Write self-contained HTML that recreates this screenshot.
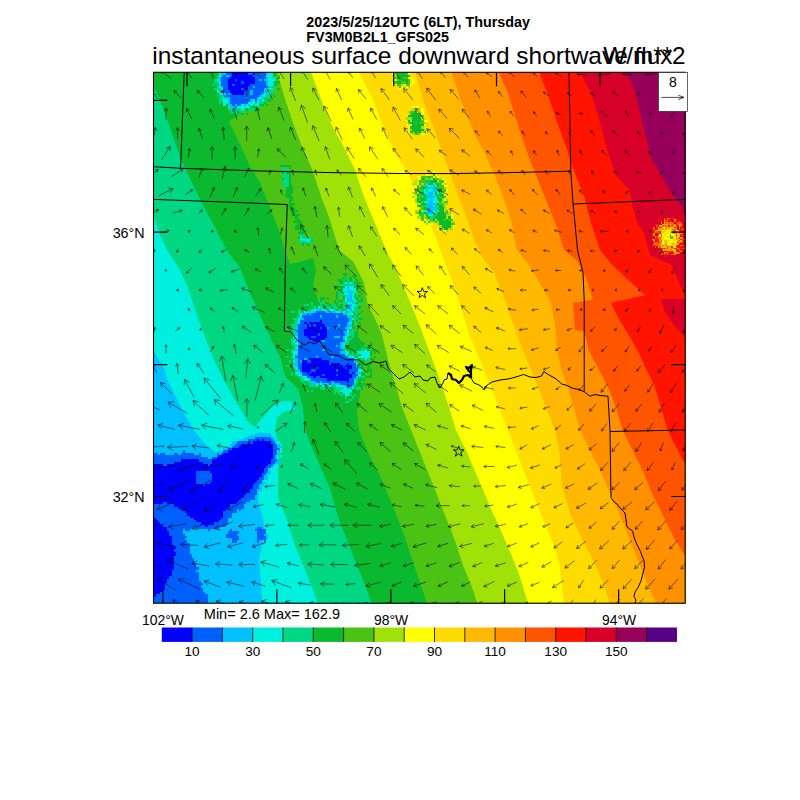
<!DOCTYPE html>
<html><head><meta charset="utf-8"><title>plot</title>
<style>html,body{margin:0;padding:0;background:#fff}svg{display:block}text{font-family:"Liberation Sans",sans-serif;fill:#000}</style>
</head><body>
<svg width="800" height="800" viewBox="0 0 800 800">
<rect width="800" height="800" fill="#fff"/>
<rect x="153.5" y="72.3" width="531.7" height="530.9" fill="#00c0ff"/>
<polygon points="153.5,351.0 163.5,367.0 167.5,380.0 176.0,397.5 185.0,415.0 195.5,432.5 206.0,444.8 214.8,451.8 223.5,450.0 234.0,444.8 244.5,437.8 258.5,432.5 270.0,433.0 276.0,441.0 277.0,452.0 274.0,462.0 266.0,476.0 259.0,488.0 258.0,500.0 262.0,515.0 265.0,530.0 259.0,560.0 261.0,585.0 262.5,603.2 685.2,603.2 685.2,72.3 153.5,72.3" fill="#00f0e0" />
<polygon points="153.5,216.0 160.0,235.0 167.0,250.0 179.0,268.0 188.0,288.0 197.0,315.0 206.0,340.0 215.0,362.5 226.5,385.0 238.0,405.0 248.0,422.0 255.0,427.0 262.0,418.5 272.5,406.0 283.0,401.0 294.0,402.0 295.0,409.0 283.0,412.0 277.0,418.0 275.0,430.0 278.0,445.0 279.0,460.0 278.0,475.0 278.0,497.5 287.0,520.0 294.0,542.5 303.0,565.0 312.0,587.5 317.6,603.2 685.2,603.2 685.2,72.3 153.5,72.3" fill="#00d782" />
<polygon points="153.5,85.0 165.8,115.0 172.5,135.0 181.5,160.0 190.5,180.0 201.8,202.8 215.0,227.5 226.5,250.0 240.0,268.0 249.0,290.5 260.0,315.0 271.5,340.0 280.5,358.0 285.0,376.0 298.5,389.5 303.0,407.5 305.0,430.0 312.0,448.0 321.0,468.0 330.0,488.5 339.0,520.0 348.0,542.5 357.0,565.0 366.0,587.5 371.6,603.2 685.2,603.2 685.2,72.3 153.5,72.3" fill="#0ab92d" />
<polygon points="276.0,72.3 271.5,99.0 251.0,106.0 228.8,121.8 240.0,144.0 249.0,164.5 260.0,182.5 269.0,205.0 278.0,227.5 285.0,250.0 290.0,264.0 300.0,262.0 313.0,258.0 316.0,270.0 313.0,285.0 318.0,300.0 340.0,310.0 364.0,345.0 364.0,365.0 362.0,382.5 357.0,412.0 359.0,430.0 368.0,452.5 379.5,475.0 391.0,502.0 402.0,529.0 411.0,556.0 420.0,583.0 427.0,603.2 685.2,603.2 685.2,72.3" fill="#4bc314" />
<polygon points="277.0,72.3 285.0,99.0 294.0,126.0 303.0,149.0 312.0,169.0 321.0,196.0 330.0,220.0 339.0,250.0 353.5,262.0 364.0,282.8 367.5,303.8 374.5,317.8 381.5,333.5 385.0,347.5 388.5,361.5 393.8,379.0 402.0,407.5 411.0,430.0 420.0,452.5 431.0,479.5 442.5,509.0 454.0,538.0 463.0,565.0 472.0,587.5 477.4,603.2 685.2,603.2 685.2,72.3" fill="#a0e10a" />
<polygon points="311.0,72.3 321.0,99.0 330.0,122.0 343.5,146.5 354.7,169.0 363.7,196.0 375.0,223.0 386.0,250.0 397.5,272.5 409.0,299.5 420.0,326.5 431.0,355.7 440.0,380.5 449.0,407.5 456.0,430.0 467.0,452.5 478.5,479.5 490.0,506.5 501.0,531.0 510.0,551.5 519.0,574.0 528.0,603.2 685.2,603.2 685.2,72.3" fill="#ffff00" />
<polygon points="359.0,72.3 372.7,99.0 384.0,128.5 395.0,153.0 408.0,173.0 420.0,200.0 436.0,237.5 440.0,250.0 451.5,279.0 460.5,306.0 469.5,335.5 481.0,362.5 490.0,385.0 499.0,407.5 508.0,430.0 519.0,459.0 530.0,486.0 541.5,515.5 552.8,542.5 559.5,565.0 564.0,603.2 685.2,603.2 685.2,72.3" fill="#ffdc00" />
<polygon points="415.5,72.3 424.5,104.0 435.8,133.0 443.0,155.0 450.0,172.8 458.8,197.0 467.5,220.0 474.5,241.0 483.0,258.0 494.0,272.5 503.0,295.0 510.0,315.0 519.0,340.0 528.0,362.5 537.0,385.0 546.0,407.5 555.0,430.0 559.5,452.5 561.8,486.0 570.8,515.5 584.0,542.5 595.5,565.0 604.5,587.5 610.0,603.2 685.2,603.2 685.2,72.3" fill="#ffb900" />
<polygon points="451.5,72.3 460.5,99.0 474.0,133.0 483.0,150.0 493.8,172.8 502.5,195.5 511.0,220.0 516.8,250.0 528.0,263.5 539.0,281.5 550.5,302.0 555.0,324.0 557.0,351.0 562.0,371.5 568.5,389.5 575.0,412.0 580.0,430.0 589.0,448.0 600.0,470.5 609.0,490.8 618.0,511.0 629.0,538.0 638.0,560.5 647.0,583.0 656.0,603.2 685.2,603.2 685.2,72.3" fill="#ff9100" />
<polygon points="498.8,72.3 507.8,92.5 519.0,128.5 530.0,160.0 539.0,182.5 548.0,205.0 557.0,227.5 564.0,250.0 577.5,261.0 586.5,279.0 593.0,299.5 573.0,303.0 575.0,330.0 584.0,331.0 589.0,351.0 600.0,371.5 609.0,389.5 616.0,407.5 622.5,430.0 631.5,448.0 642.8,470.5 651.8,493.0 663.0,515.5 674.0,538.0 685.2,556.0 685.2,72.3" fill="#ff5500" />
<polygon points="539.0,72.3 548.0,95.0 557.0,122.0 566.0,146.5 573.0,169.0 584.0,196.0 591.0,223.0 600.0,250.0 611.0,263.5 627.0,279.0 645.0,295.0 611.0,303.0 618.0,317.5 629.0,335.5 638.0,351.0 645.0,367.0 654.0,385.0 661.0,407.5 667.5,430.0 676.5,448.0 685.2,463.8 685.2,72.3" fill="#ff1400" />
<polygon points="580.0,72.3 591.0,92.5 600.0,122.0 607.0,149.0 616.0,176.0 630.0,190.0 633.0,209.0 637.0,222.0 644.0,233.0 650.0,255.0 672.0,265.0 682.0,290.0 685.2,295.0 685.2,72.3" fill="#d70028" />
<polygon points="625.0,72.3 632.6,83.5 638.0,104.0 645.0,133.0 652.0,160.0 663.0,178.0 672.0,194.0 681.0,205.0 685.2,214.0 685.2,72.3" fill="#96005a" />
<polygon points="685.2,299.0 661.0,299.0 665.0,312.0 674.0,325.0 685.2,338.0" fill="#d70028" />
<path d="M232.25 72.30h15.75v2.30h-15.75zM252.50 72.30h2.25v2.30h-2.25zM232.25 74.55h20.25v2.30h-20.25zM230.00 76.80h24.75v2.30h-24.75zM227.75 79.05h6.75v2.30h-6.75zM236.75 79.05h18.00v2.30h-18.00zM227.75 81.30h13.50v2.30h-13.50zM243.50 81.30h11.25v2.30h-11.25zM227.75 83.55h4.50v2.30h-4.50zM234.50 83.55h15.75v2.30h-15.75zM227.75 85.80h20.25v2.30h-20.25zM227.75 88.05h13.50v2.30h-13.50zM243.50 88.05h4.50v2.30h-4.50zM230.00 90.30h13.50v2.30h-13.50zM232.25 92.55h11.25v2.30h-11.25zM320.00 319.80h2.25v2.30h-2.25zM304.25 322.05h2.25v2.30h-2.25zM308.75 322.05h13.50v2.30h-13.50zM306.50 324.30h2.25v2.30h-2.25zM311.00 324.30h2.25v2.30h-2.25zM315.50 324.30h9.00v2.30h-9.00zM306.50 326.55h13.50v2.30h-13.50zM322.25 326.55h4.50v2.30h-4.50zM304.25 328.80h22.50v2.30h-22.50zM304.25 331.05h22.50v2.30h-22.50zM304.25 333.30h13.50v2.30h-13.50zM320.00 333.30h6.75v2.30h-6.75zM306.50 335.55h4.50v2.30h-4.50zM315.50 335.55h11.25v2.30h-11.25zM308.75 337.80h15.75v2.30h-15.75zM313.25 340.05h6.75v2.30h-6.75zM308.75 358.05h13.50v2.30h-13.50zM302.00 360.30h4.50v2.30h-4.50zM311.00 360.30h18.00v2.30h-18.00zM302.00 362.55h27.00v2.30h-27.00zM331.25 362.55h9.00v2.30h-9.00zM347.00 362.55h2.25v2.30h-2.25zM302.00 364.80h40.50v2.30h-40.50zM344.75 364.80h6.75v2.30h-6.75zM302.00 367.05h13.50v2.30h-13.50zM317.75 367.05h27.00v2.30h-27.00zM347.00 367.05h4.50v2.30h-4.50zM302.00 369.30h9.00v2.30h-9.00zM315.50 369.30h20.25v2.30h-20.25zM338.00 369.30h11.25v2.30h-11.25zM306.50 371.55h2.25v2.30h-2.25zM311.00 371.55h38.25v2.30h-38.25zM351.50 371.55h2.25v2.30h-2.25zM308.75 373.80h13.50v2.30h-13.50zM324.50 373.80h11.25v2.30h-11.25zM338.00 373.80h13.50v2.30h-13.50zM313.25 376.05h2.25v2.30h-2.25zM320.00 376.05h31.50v2.30h-31.50zM326.75 378.30h22.50v2.30h-22.50zM347.00 380.55h2.25v2.30h-2.25zM257.00 439.05h2.25v2.30h-2.25zM261.50 439.05h2.25v2.30h-2.25zM248.00 441.30h2.25v2.30h-2.25zM252.50 441.30h18.00v2.30h-18.00zM241.25 443.55h31.50v2.30h-31.50zM239.00 445.80h33.75v2.30h-33.75zM232.25 448.05h40.50v2.30h-40.50zM227.75 450.30h45.00v2.30h-45.00zM223.25 452.55h49.50v2.30h-49.50zM218.75 454.80h54.00v2.30h-54.00zM216.50 457.05h56.25v2.30h-56.25zM180.50 459.30h18.00v2.30h-18.00zM212.00 459.30h58.50v2.30h-58.50zM173.75 461.55h29.25v2.30h-29.25zM212.00 461.55h58.50v2.30h-58.50zM153.50 463.80h9.00v2.30h-9.00zM167.00 463.80h40.50v2.30h-40.50zM209.75 463.80h58.50v2.30h-58.50zM153.50 466.05h112.50v2.30h-112.50zM153.50 468.30h110.25v2.30h-110.25zM153.50 470.55h42.75v2.30h-42.75zM209.75 470.55h54.00v2.30h-54.00zM153.50 472.80h42.75v2.30h-42.75zM212.00 472.80h49.50v2.30h-49.50zM153.50 475.05h42.75v2.30h-42.75zM212.00 475.05h49.50v2.30h-49.50zM153.50 477.30h42.75v2.30h-42.75zM212.00 477.30h47.25v2.30h-47.25zM153.50 479.55h42.75v2.30h-42.75zM212.00 479.55h45.00v2.30h-45.00zM153.50 481.80h42.75v2.30h-42.75zM209.75 481.80h45.00v2.30h-45.00zM153.50 484.05h49.50v2.30h-49.50zM205.25 484.05h47.25v2.30h-47.25zM153.50 486.30h99.00v2.30h-99.00zM153.50 488.55h96.75v2.30h-96.75zM153.50 490.80h96.75v2.30h-96.75zM153.50 493.05h92.25v2.30h-92.25zM153.50 495.30h90.00v2.30h-90.00zM153.50 497.55h87.75v2.30h-87.75zM153.50 499.80h85.50v2.30h-85.50zM153.50 502.05h9.00v2.30h-9.00zM167.00 502.05h69.75v2.30h-69.75zM173.75 504.30h56.25v2.30h-56.25zM178.25 506.55h49.50v2.30h-49.50zM182.75 508.80h42.75v2.30h-42.75zM185.00 511.05h38.25v2.30h-38.25zM187.25 513.30h36.00v2.30h-36.00zM189.50 515.55h33.75v2.30h-33.75zM153.50 517.80h2.25v2.30h-2.25zM194.00 517.80h27.00v2.30h-27.00zM153.50 520.05h4.50v2.30h-4.50zM196.25 520.05h22.50v2.30h-22.50zM153.50 522.30h6.75v2.30h-6.75zM200.75 522.30h13.50v2.30h-13.50zM153.50 524.55h9.00v2.30h-9.00zM205.25 524.55h2.25v2.30h-2.25zM153.50 526.80h13.50v2.30h-13.50zM153.50 529.05h13.50v2.30h-13.50zM153.50 531.30h15.75v2.30h-15.75zM153.50 533.55h15.75v2.30h-15.75zM153.50 535.80h18.00v2.30h-18.00zM153.50 538.05h18.00v2.30h-18.00zM153.50 540.30h18.00v2.30h-18.00zM153.50 542.55h18.00v2.30h-18.00zM153.50 544.80h20.25v2.30h-20.25zM153.50 547.05h22.50v2.30h-22.50zM153.50 549.30h20.25v2.30h-20.25zM153.50 551.55h22.50v2.30h-22.50zM153.50 553.80h22.50v2.30h-22.50zM153.50 556.05h20.25v2.30h-20.25zM153.50 558.30h20.25v2.30h-20.25zM153.50 560.55h20.25v2.30h-20.25zM153.50 562.80h20.25v2.30h-20.25zM153.50 565.05h20.25v2.30h-20.25zM153.50 567.30h20.25v2.30h-20.25zM153.50 569.55h18.00v2.30h-18.00zM153.50 571.80h18.00v2.30h-18.00zM153.50 574.05h18.00v2.30h-18.00zM153.50 576.30h15.75v2.30h-15.75zM153.50 578.55h13.50v2.30h-13.50zM153.50 580.80h13.50v2.30h-13.50zM153.50 583.05h11.25v2.30h-11.25zM153.50 585.30h11.25v2.30h-11.25zM153.50 587.55h11.25v2.30h-11.25zM153.50 589.80h9.00v2.30h-9.00zM153.50 592.05h6.75v2.30h-6.75zM153.50 594.30h2.25v2.30h-2.25z" fill="#0000ff" shape-rendering="crispEdges"/>
<path d="M225.50 72.30h6.75v2.30h-6.75zM248.00 72.30h4.50v2.30h-4.50zM254.75 72.30h11.25v2.30h-11.25zM223.25 74.55h2.25v2.30h-2.25zM230.00 74.55h2.25v2.30h-2.25zM252.50 74.55h13.50v2.30h-13.50zM221.00 76.80h9.00v2.30h-9.00zM254.75 76.80h11.25v2.30h-11.25zM221.00 79.05h6.75v2.30h-6.75zM234.50 79.05h2.25v2.30h-2.25zM254.75 79.05h4.50v2.30h-4.50zM261.50 79.05h2.25v2.30h-2.25zM221.00 81.30h6.75v2.30h-6.75zM241.25 81.30h2.25v2.30h-2.25zM254.75 81.30h11.25v2.30h-11.25zM221.00 83.55h6.75v2.30h-6.75zM232.25 83.55h2.25v2.30h-2.25zM250.25 83.55h15.75v2.30h-15.75zM223.25 85.80h4.50v2.30h-4.50zM248.00 85.80h4.50v2.30h-4.50zM254.75 85.80h13.50v2.30h-13.50zM223.25 88.05h4.50v2.30h-4.50zM241.25 88.05h2.25v2.30h-2.25zM248.00 88.05h15.75v2.30h-15.75zM221.00 90.30h9.00v2.30h-9.00zM243.50 90.30h6.75v2.30h-6.75zM252.50 90.30h11.25v2.30h-11.25zM225.50 92.55h2.25v2.30h-2.25zM230.00 92.55h2.25v2.30h-2.25zM243.50 92.55h6.75v2.30h-6.75zM252.50 92.55h9.00v2.30h-9.00zM225.50 94.80h33.75v2.30h-33.75zM230.00 97.05h15.75v2.30h-15.75zM248.00 97.05h9.00v2.30h-9.00zM230.00 99.30h20.25v2.30h-20.25zM254.75 99.30h2.25v2.30h-2.25zM230.00 101.55h18.00v2.30h-18.00zM232.25 103.80h2.25v2.30h-2.25zM236.75 103.80h4.50v2.30h-4.50zM234.50 106.05h2.25v2.30h-2.25zM315.50 310.80h9.00v2.30h-9.00zM306.50 313.05h2.25v2.30h-2.25zM311.00 313.05h31.50v2.30h-31.50zM302.00 315.30h18.00v2.30h-18.00zM322.25 315.30h13.50v2.30h-13.50zM338.00 315.30h9.00v2.30h-9.00zM304.25 317.55h45.00v2.30h-45.00zM299.75 319.80h20.25v2.30h-20.25zM322.25 319.80h27.00v2.30h-27.00zM299.75 322.05h4.50v2.30h-4.50zM306.50 322.05h2.25v2.30h-2.25zM322.25 322.05h24.75v2.30h-24.75zM297.50 324.30h9.00v2.30h-9.00zM308.75 324.30h2.25v2.30h-2.25zM313.25 324.30h2.25v2.30h-2.25zM324.50 324.30h13.50v2.30h-13.50zM340.25 324.30h6.75v2.30h-6.75zM297.50 326.55h9.00v2.30h-9.00zM320.00 326.55h2.25v2.30h-2.25zM329.00 326.55h6.75v2.30h-6.75zM338.00 326.55h6.75v2.30h-6.75zM297.50 328.80h6.75v2.30h-6.75zM326.75 328.80h20.25v2.30h-20.25zM297.50 331.05h6.75v2.30h-6.75zM326.75 331.05h15.75v2.30h-15.75zM297.50 333.30h6.75v2.30h-6.75zM317.75 333.30h2.25v2.30h-2.25zM326.75 333.30h18.00v2.30h-18.00zM297.50 335.55h9.00v2.30h-9.00zM311.00 335.55h4.50v2.30h-4.50zM326.75 335.55h6.75v2.30h-6.75zM340.25 335.55h2.25v2.30h-2.25zM297.50 337.80h11.25v2.30h-11.25zM324.50 337.80h18.00v2.30h-18.00zM297.50 340.05h15.75v2.30h-15.75zM320.00 340.05h2.25v2.30h-2.25zM324.50 340.05h20.25v2.30h-20.25zM299.75 342.30h40.50v2.30h-40.50zM297.50 344.55h38.25v2.30h-38.25zM338.00 344.55h2.25v2.30h-2.25zM297.50 346.80h42.75v2.30h-42.75zM297.50 349.05h24.75v2.30h-24.75zM324.50 349.05h18.00v2.30h-18.00zM297.50 351.30h42.75v2.30h-42.75zM297.50 353.55h47.25v2.30h-47.25zM295.25 355.80h20.25v2.30h-20.25zM317.75 355.80h13.50v2.30h-13.50zM333.50 355.80h13.50v2.30h-13.50zM297.50 358.05h6.75v2.30h-6.75zM306.50 358.05h2.25v2.30h-2.25zM322.25 358.05h31.50v2.30h-31.50zM297.50 360.30h2.25v2.30h-2.25zM306.50 360.30h4.50v2.30h-4.50zM329.00 360.30h24.75v2.30h-24.75zM297.50 362.55h4.50v2.30h-4.50zM329.00 362.55h2.25v2.30h-2.25zM340.25 362.55h6.75v2.30h-6.75zM349.25 362.55h6.75v2.30h-6.75zM297.50 364.80h4.50v2.30h-4.50zM342.50 364.80h2.25v2.30h-2.25zM351.50 364.80h4.50v2.30h-4.50zM297.50 367.05h4.50v2.30h-4.50zM315.50 367.05h2.25v2.30h-2.25zM344.75 367.05h2.25v2.30h-2.25zM351.50 367.05h6.75v2.30h-6.75zM299.75 369.30h2.25v2.30h-2.25zM311.00 369.30h4.50v2.30h-4.50zM335.75 369.30h2.25v2.30h-2.25zM349.25 369.30h9.00v2.30h-9.00zM302.00 371.55h4.50v2.30h-4.50zM308.75 371.55h2.25v2.30h-2.25zM349.25 371.55h2.25v2.30h-2.25zM353.75 371.55h2.25v2.30h-2.25zM302.00 373.80h6.75v2.30h-6.75zM322.25 373.80h2.25v2.30h-2.25zM335.75 373.80h2.25v2.30h-2.25zM351.50 373.80h6.75v2.30h-6.75zM306.50 376.05h6.75v2.30h-6.75zM315.50 376.05h4.50v2.30h-4.50zM351.50 376.05h4.50v2.30h-4.50zM311.00 378.30h15.75v2.30h-15.75zM349.25 378.30h4.50v2.30h-4.50zM315.50 380.55h4.50v2.30h-4.50zM322.25 380.55h9.00v2.30h-9.00zM333.50 380.55h13.50v2.30h-13.50zM349.25 380.55h4.50v2.30h-4.50zM329.00 382.80h2.25v2.30h-2.25zM340.25 382.80h13.50v2.30h-13.50zM347.00 385.05h4.50v2.30h-4.50zM254.75 436.80h15.75v2.30h-15.75zM248.00 439.05h9.00v2.30h-9.00zM259.25 439.05h2.25v2.30h-2.25zM263.75 439.05h9.00v2.30h-9.00zM236.75 441.30h11.25v2.30h-11.25zM250.25 441.30h2.25v2.30h-2.25zM270.50 441.30h4.50v2.30h-4.50zM234.50 443.55h6.75v2.30h-6.75zM272.75 443.55h4.50v2.30h-4.50zM232.25 445.80h6.75v2.30h-6.75zM272.75 445.80h4.50v2.30h-4.50zM227.75 448.05h4.50v2.30h-4.50zM272.75 448.05h6.75v2.30h-6.75zM182.75 450.30h2.25v2.30h-2.25zM223.25 450.30h4.50v2.30h-4.50zM272.75 450.30h4.50v2.30h-4.50zM153.50 452.55h4.50v2.30h-4.50zM160.25 452.55h4.50v2.30h-4.50zM173.75 452.55h4.50v2.30h-4.50zM180.50 452.55h13.50v2.30h-13.50zM198.50 452.55h2.25v2.30h-2.25zM216.50 452.55h2.25v2.30h-2.25zM221.00 452.55h2.25v2.30h-2.25zM272.75 452.55h4.50v2.30h-4.50zM153.50 454.80h47.25v2.30h-47.25zM216.50 454.80h2.25v2.30h-2.25zM272.75 454.80h2.25v2.30h-2.25zM153.50 457.05h54.00v2.30h-54.00zM212.00 457.05h4.50v2.30h-4.50zM272.75 457.05h2.25v2.30h-2.25zM153.50 459.30h27.00v2.30h-27.00zM198.50 459.30h13.50v2.30h-13.50zM270.50 459.30h6.75v2.30h-6.75zM153.50 461.55h20.25v2.30h-20.25zM203.00 461.55h9.00v2.30h-9.00zM270.50 461.55h4.50v2.30h-4.50zM162.50 463.80h4.50v2.30h-4.50zM207.50 463.80h2.25v2.30h-2.25zM268.25 463.80h4.50v2.30h-4.50zM266.00 466.05h4.50v2.30h-4.50zM263.75 468.30h4.50v2.30h-4.50zM196.25 470.55h13.50v2.30h-13.50zM263.75 470.55h4.50v2.30h-4.50zM196.25 472.80h15.75v2.30h-15.75zM261.50 472.80h4.50v2.30h-4.50zM196.25 475.05h15.75v2.30h-15.75zM261.50 475.05h2.25v2.30h-2.25zM196.25 477.30h15.75v2.30h-15.75zM259.25 477.30h4.50v2.30h-4.50zM196.25 479.55h15.75v2.30h-15.75zM257.00 479.55h4.50v2.30h-4.50zM196.25 481.80h13.50v2.30h-13.50zM254.75 481.80h6.75v2.30h-6.75zM203.00 484.05h2.25v2.30h-2.25zM252.50 484.05h6.75v2.30h-6.75zM252.50 486.30h6.75v2.30h-6.75zM250.25 488.55h6.75v2.30h-6.75zM250.25 490.80h6.75v2.30h-6.75zM245.75 493.05h11.25v2.30h-11.25zM243.50 495.30h11.25v2.30h-11.25zM241.25 497.55h13.50v2.30h-13.50zM239.00 499.80h11.25v2.30h-11.25zM162.50 502.05h4.50v2.30h-4.50zM236.75 502.05h9.00v2.30h-9.00zM153.50 504.30h20.25v2.30h-20.25zM230.00 504.30h13.50v2.30h-13.50zM153.50 506.55h24.75v2.30h-24.75zM227.75 506.55h15.75v2.30h-15.75zM153.50 508.80h29.25v2.30h-29.25zM225.50 508.80h11.25v2.30h-11.25zM239.00 508.80h2.25v2.30h-2.25zM153.50 511.05h31.50v2.30h-31.50zM223.25 511.05h13.50v2.30h-13.50zM153.50 513.30h33.75v2.30h-33.75zM223.25 513.30h9.00v2.30h-9.00zM153.50 515.55h36.00v2.30h-36.00zM223.25 515.55h9.00v2.30h-9.00zM155.75 517.80h38.25v2.30h-38.25zM221.00 517.80h6.75v2.30h-6.75zM158.00 520.05h38.25v2.30h-38.25zM218.75 520.05h9.00v2.30h-9.00zM160.25 522.30h40.50v2.30h-40.50zM214.25 522.30h13.50v2.30h-13.50zM162.50 524.55h42.75v2.30h-42.75zM207.50 524.55h18.00v2.30h-18.00zM167.00 526.80h27.00v2.30h-27.00zM196.25 526.80h22.50v2.30h-22.50zM257.00 526.80h4.50v2.30h-4.50zM167.00 529.05h15.75v2.30h-15.75zM185.00 529.05h4.50v2.30h-4.50zM207.50 529.05h2.25v2.30h-2.25zM230.00 529.05h2.25v2.30h-2.25zM254.75 529.05h11.25v2.30h-11.25zM169.25 531.30h13.50v2.30h-13.50zM227.75 531.30h11.25v2.30h-11.25zM257.00 531.30h9.00v2.30h-9.00zM169.25 533.55h15.75v2.30h-15.75zM225.50 533.55h11.25v2.30h-11.25zM257.00 533.55h6.75v2.30h-6.75zM171.50 535.80h15.75v2.30h-15.75zM225.50 535.80h13.50v2.30h-13.50zM257.00 535.80h9.00v2.30h-9.00zM171.50 538.05h13.50v2.30h-13.50zM232.25 538.05h6.75v2.30h-6.75zM257.00 538.05h9.00v2.30h-9.00zM171.50 540.30h15.75v2.30h-15.75zM232.25 540.30h4.50v2.30h-4.50zM257.00 540.30h2.25v2.30h-2.25zM263.75 540.30h2.25v2.30h-2.25zM171.50 542.55h18.00v2.30h-18.00zM173.75 544.80h15.75v2.30h-15.75zM176.00 547.05h13.50v2.30h-13.50zM173.75 549.30h15.75v2.30h-15.75zM176.00 551.55h13.50v2.30h-13.50zM176.00 553.80h15.75v2.30h-15.75zM173.75 556.05h18.00v2.30h-18.00zM173.75 558.30h20.25v2.30h-20.25zM173.75 560.55h20.25v2.30h-20.25zM173.75 562.80h22.50v2.30h-22.50zM173.75 565.05h22.50v2.30h-22.50zM173.75 567.30h24.75v2.30h-24.75zM171.50 569.55h24.75v2.30h-24.75zM171.50 571.80h27.00v2.30h-27.00zM171.50 574.05h27.00v2.30h-27.00zM169.25 576.30h29.25v2.30h-29.25zM167.00 578.55h31.50v2.30h-31.50zM167.00 580.80h33.75v2.30h-33.75zM164.75 583.05h38.25v2.30h-38.25zM164.75 585.30h36.00v2.30h-36.00zM164.75 587.55h38.25v2.30h-38.25zM162.50 589.80h40.50v2.30h-40.50zM160.25 592.05h45.00v2.30h-45.00zM155.75 594.30h51.75v2.30h-51.75zM153.50 596.55h54.00v2.30h-54.00zM153.50 598.80h54.00v2.30h-54.00zM153.50 601.05h54.00v2.20h-54.00z" fill="#0060ff" shape-rendering="crispEdges"/>
<path d="M221.00 72.30h4.50v2.30h-4.50zM266.00 72.30h2.25v2.30h-2.25zM221.00 74.55h2.25v2.30h-2.25zM225.50 74.55h4.50v2.30h-4.50zM218.75 76.80h2.25v2.30h-2.25zM266.00 76.80h2.25v2.30h-2.25zM218.75 79.05h2.25v2.30h-2.25zM259.25 79.05h2.25v2.30h-2.25zM263.75 79.05h4.50v2.30h-4.50zM266.00 81.30h2.25v2.30h-2.25zM266.00 83.55h2.25v2.30h-2.25zM221.00 85.80h2.25v2.30h-2.25zM252.50 85.80h2.25v2.30h-2.25zM263.75 88.05h2.25v2.30h-2.25zM250.25 90.30h2.25v2.30h-2.25zM263.75 90.30h2.25v2.30h-2.25zM227.75 92.55h2.25v2.30h-2.25zM250.25 92.55h2.25v2.30h-2.25zM261.50 92.55h2.25v2.30h-2.25zM223.25 94.80h2.25v2.30h-2.25zM259.25 94.80h2.25v2.30h-2.25zM225.50 97.05h4.50v2.30h-4.50zM245.75 97.05h2.25v2.30h-2.25zM257.00 97.05h2.25v2.30h-2.25zM261.50 97.05h2.25v2.30h-2.25zM227.75 99.30h2.25v2.30h-2.25zM250.25 99.30h2.25v2.30h-2.25zM259.25 99.30h2.25v2.30h-2.25zM227.75 101.55h2.25v2.30h-2.25zM230.00 103.80h2.25v2.30h-2.25zM234.50 103.80h2.25v2.30h-2.25zM243.50 103.80h2.25v2.30h-2.25zM248.00 103.80h2.25v2.30h-2.25zM230.00 106.05h4.50v2.30h-4.50zM234.50 108.30h2.25v2.30h-2.25zM425.75 184.80h2.25v2.30h-2.25zM432.50 184.80h2.25v2.30h-2.25zM428.00 187.05h6.75v2.30h-6.75zM432.50 189.30h4.50v2.30h-4.50zM428.00 191.55h4.50v2.30h-4.50zM428.00 193.80h4.50v2.30h-4.50zM425.75 196.05h9.00v2.30h-9.00zM430.25 198.30h2.25v2.30h-2.25zM428.00 200.55h4.50v2.30h-4.50zM425.75 202.80h11.25v2.30h-11.25zM428.00 205.05h4.50v2.30h-4.50zM428.00 207.30h6.75v2.30h-6.75zM428.00 209.55h4.50v2.30h-4.50zM434.75 209.55h2.25v2.30h-2.25zM428.00 211.80h4.50v2.30h-4.50zM347.00 283.80h2.25v2.30h-2.25zM347.00 286.05h2.25v2.30h-2.25zM347.00 288.30h2.25v2.30h-2.25zM347.00 290.55h4.50v2.30h-4.50zM349.25 292.80h2.25v2.30h-2.25zM344.75 295.05h6.75v2.30h-6.75zM347.00 297.30h4.50v2.30h-4.50zM347.00 299.55h6.75v2.30h-6.75zM351.50 301.80h2.25v2.30h-2.25zM347.00 304.05h4.50v2.30h-4.50zM347.00 306.30h4.50v2.30h-4.50zM315.50 308.55h4.50v2.30h-4.50zM308.75 310.80h2.25v2.30h-2.25zM313.25 310.80h2.25v2.30h-2.25zM324.50 310.80h11.25v2.30h-11.25zM340.25 310.80h2.25v2.30h-2.25zM347.00 310.80h2.25v2.30h-2.25zM302.00 313.05h4.50v2.30h-4.50zM308.75 313.05h2.25v2.30h-2.25zM342.50 313.05h2.25v2.30h-2.25zM320.00 315.30h2.25v2.30h-2.25zM335.75 315.30h2.25v2.30h-2.25zM347.00 315.30h2.25v2.30h-2.25zM299.75 317.55h4.50v2.30h-4.50zM349.25 317.55h2.25v2.30h-2.25zM349.25 319.80h2.25v2.30h-2.25zM295.25 322.05h2.25v2.30h-2.25zM347.00 322.05h2.25v2.30h-2.25zM338.00 324.30h2.25v2.30h-2.25zM347.00 324.30h4.50v2.30h-4.50zM295.25 326.55h2.25v2.30h-2.25zM326.75 326.55h2.25v2.30h-2.25zM335.75 326.55h2.25v2.30h-2.25zM344.75 326.55h4.50v2.30h-4.50zM295.25 328.80h2.25v2.30h-2.25zM295.25 331.05h2.25v2.30h-2.25zM342.50 331.05h4.50v2.30h-4.50zM295.25 333.30h2.25v2.30h-2.25zM344.75 333.30h2.25v2.30h-2.25zM333.50 335.55h6.75v2.30h-6.75zM342.50 335.55h2.25v2.30h-2.25zM342.50 337.80h2.25v2.30h-2.25zM295.25 340.05h2.25v2.30h-2.25zM322.25 340.05h2.25v2.30h-2.25zM297.50 342.30h2.25v2.30h-2.25zM340.25 342.30h2.25v2.30h-2.25zM295.25 344.55h2.25v2.30h-2.25zM335.75 344.55h2.25v2.30h-2.25zM340.25 344.55h2.25v2.30h-2.25zM340.25 346.80h2.25v2.30h-2.25zM295.25 349.05h2.25v2.30h-2.25zM322.25 349.05h2.25v2.30h-2.25zM340.25 351.30h4.50v2.30h-4.50zM295.25 353.55h2.25v2.30h-2.25zM347.00 353.55h2.25v2.30h-2.25zM315.50 355.80h2.25v2.30h-2.25zM331.25 355.80h2.25v2.30h-2.25zM347.00 355.80h2.25v2.30h-2.25zM295.25 358.05h2.25v2.30h-2.25zM304.25 358.05h2.25v2.30h-2.25zM295.25 360.30h2.25v2.30h-2.25zM299.75 360.30h2.25v2.30h-2.25zM353.75 360.30h2.25v2.30h-2.25zM295.25 362.55h2.25v2.30h-2.25zM295.25 364.80h2.25v2.30h-2.25zM297.50 369.30h2.25v2.30h-2.25zM299.75 371.55h2.25v2.30h-2.25zM356.00 371.55h4.50v2.30h-4.50zM356.00 376.05h2.25v2.30h-2.25zM308.75 378.30h2.25v2.30h-2.25zM353.75 378.30h2.25v2.30h-2.25zM311.00 380.55h4.50v2.30h-4.50zM320.00 380.55h2.25v2.30h-2.25zM331.25 380.55h2.25v2.30h-2.25zM313.25 382.80h2.25v2.30h-2.25zM322.25 382.80h2.25v2.30h-2.25zM326.75 382.80h2.25v2.30h-2.25zM331.25 382.80h9.00v2.30h-9.00zM342.50 385.05h4.50v2.30h-4.50zM351.50 385.05h2.25v2.30h-2.25zM347.00 387.30h2.25v2.30h-2.25zM272.75 436.80h2.25v2.30h-2.25zM239.00 439.05h2.25v2.30h-2.25zM232.25 441.30h4.50v2.30h-4.50zM230.00 443.55h4.50v2.30h-4.50zM277.25 443.55h2.25v2.30h-2.25zM225.50 445.80h2.25v2.30h-2.25zM277.25 445.80h4.50v2.30h-4.50zM223.25 448.05h2.25v2.30h-2.25zM277.25 452.55h2.25v2.30h-2.25zM275.00 454.80h2.25v2.30h-2.25zM275.00 457.05h2.25v2.30h-2.25zM277.25 459.30h2.25v2.30h-2.25zM275.00 461.55h4.50v2.30h-4.50zM272.75 463.80h2.25v2.30h-2.25zM270.50 466.05h2.25v2.30h-2.25zM268.25 470.55h2.25v2.30h-2.25zM268.25 472.80h2.25v2.30h-2.25zM266.00 475.05h2.25v2.30h-2.25zM263.75 477.30h4.50v2.30h-4.50zM261.50 481.80h4.50v2.30h-4.50zM261.50 484.05h2.25v2.30h-2.25zM259.25 486.30h2.25v2.30h-2.25zM259.25 488.55h2.25v2.30h-2.25zM263.75 533.55h4.50v2.30h-4.50zM266.00 535.80h2.25v2.30h-2.25zM266.00 538.05h2.25v2.30h-2.25zM261.50 542.55h2.25v2.30h-2.25z" fill="#00c0ff" shape-rendering="crispEdges"/>
<path d="M218.75 72.30h2.25v2.30h-2.25zM268.25 72.30h4.50v2.30h-4.50zM218.75 74.55h2.25v2.30h-2.25zM266.00 74.55h6.75v2.30h-6.75zM268.25 76.80h2.25v2.30h-2.25zM272.75 76.80h2.25v2.30h-2.25zM216.50 79.05h2.25v2.30h-2.25zM268.25 79.05h6.75v2.30h-6.75zM218.75 81.30h2.25v2.30h-2.25zM268.25 81.30h4.50v2.30h-4.50zM268.25 83.55h4.50v2.30h-4.50zM218.75 85.80h2.25v2.30h-2.25zM221.00 88.05h2.25v2.30h-2.25zM266.00 88.05h6.75v2.30h-6.75zM216.50 90.30h2.25v2.30h-2.25zM266.00 90.30h4.50v2.30h-4.50zM218.75 92.55h6.75v2.30h-6.75zM263.75 92.55h2.25v2.30h-2.25zM268.25 92.55h2.25v2.30h-2.25zM261.50 94.80h4.50v2.30h-4.50zM223.25 97.05h2.25v2.30h-2.25zM259.25 97.05h2.25v2.30h-2.25zM223.25 99.30h4.50v2.30h-4.50zM252.50 99.30h2.25v2.30h-2.25zM257.00 99.30h2.25v2.30h-2.25zM261.50 99.30h2.25v2.30h-2.25zM223.25 101.55h4.50v2.30h-4.50zM248.00 101.55h6.75v2.30h-6.75zM257.00 101.55h2.25v2.30h-2.25zM223.25 103.80h2.25v2.30h-2.25zM241.25 103.80h2.25v2.30h-2.25zM245.75 103.80h2.25v2.30h-2.25zM250.25 103.80h2.25v2.30h-2.25zM254.75 103.80h4.50v2.30h-4.50zM227.75 106.05h2.25v2.30h-2.25zM236.75 106.05h13.50v2.30h-13.50zM241.25 108.30h2.25v2.30h-2.25zM425.75 182.55h2.25v2.30h-2.25zM432.50 182.55h2.25v2.30h-2.25zM428.00 184.80h4.50v2.30h-4.50zM434.75 184.80h2.25v2.30h-2.25zM423.50 189.30h2.25v2.30h-2.25zM428.00 189.30h4.50v2.30h-4.50zM423.50 191.55h4.50v2.30h-4.50zM432.50 191.55h2.25v2.30h-2.25zM437.00 191.55h2.25v2.30h-2.25zM432.50 193.80h2.25v2.30h-2.25zM434.75 196.05h2.25v2.30h-2.25zM428.00 198.30h2.25v2.30h-2.25zM432.50 198.30h4.50v2.30h-4.50zM423.50 200.55h4.50v2.30h-4.50zM432.50 200.55h6.75v2.30h-6.75zM432.50 205.05h2.25v2.30h-2.25zM423.50 209.55h4.50v2.30h-4.50zM432.50 209.55h2.25v2.30h-2.25zM437.00 209.55h2.25v2.30h-2.25zM432.50 211.80h4.50v2.30h-4.50zM428.00 214.05h4.50v2.30h-4.50zM344.75 281.55h2.25v2.30h-2.25zM349.25 281.55h2.25v2.30h-2.25zM344.75 286.05h2.25v2.30h-2.25zM349.25 286.05h4.50v2.30h-4.50zM342.50 288.30h4.50v2.30h-4.50zM349.25 288.30h6.75v2.30h-6.75zM344.75 290.55h2.25v2.30h-2.25zM353.75 290.55h2.25v2.30h-2.25zM342.50 292.80h6.75v2.30h-6.75zM351.50 292.80h2.25v2.30h-2.25zM351.50 295.05h2.25v2.30h-2.25zM344.75 297.30h2.25v2.30h-2.25zM351.50 297.30h2.25v2.30h-2.25zM344.75 299.55h2.25v2.30h-2.25zM353.75 299.55h2.25v2.30h-2.25zM347.00 301.80h4.50v2.30h-4.50zM351.50 304.05h4.50v2.30h-4.50zM317.75 306.30h2.25v2.30h-2.25zM351.50 306.30h2.25v2.30h-2.25zM313.25 308.55h2.25v2.30h-2.25zM322.25 308.55h4.50v2.30h-4.50zM329.00 308.55h4.50v2.30h-4.50zM347.00 308.55h6.75v2.30h-6.75zM304.25 310.80h4.50v2.30h-4.50zM311.00 310.80h2.25v2.30h-2.25zM335.75 310.80h4.50v2.30h-4.50zM342.50 310.80h2.25v2.30h-2.25zM349.25 310.80h4.50v2.30h-4.50zM299.75 313.05h2.25v2.30h-2.25zM347.00 313.05h6.75v2.30h-6.75zM299.75 315.30h2.25v2.30h-2.25zM297.50 317.55h2.25v2.30h-2.25zM351.50 317.55h2.25v2.30h-2.25zM297.50 319.80h2.25v2.30h-2.25zM297.50 322.05h2.25v2.30h-2.25zM349.25 322.05h2.25v2.30h-2.25zM349.25 326.55h2.25v2.30h-2.25zM293.00 328.80h2.25v2.30h-2.25zM347.00 328.80h2.25v2.30h-2.25zM347.00 331.05h2.25v2.30h-2.25zM347.00 333.30h2.25v2.30h-2.25zM293.00 335.55h4.50v2.30h-4.50zM344.75 335.55h2.25v2.30h-2.25zM295.25 337.80h2.25v2.30h-2.25zM344.75 337.80h2.25v2.30h-2.25zM293.00 340.05h2.25v2.30h-2.25zM344.75 340.05h2.25v2.30h-2.25zM295.25 342.30h2.25v2.30h-2.25zM342.50 342.30h2.25v2.30h-2.25zM342.50 344.55h2.25v2.30h-2.25zM295.25 346.80h2.25v2.30h-2.25zM365.00 349.05h2.25v2.30h-2.25zM293.00 351.30h4.50v2.30h-4.50zM344.75 351.30h4.50v2.30h-4.50zM358.25 351.30h11.25v2.30h-11.25zM293.00 353.55h2.25v2.30h-2.25zM344.75 353.55h2.25v2.30h-2.25zM360.50 353.55h9.00v2.30h-9.00zM293.00 355.80h2.25v2.30h-2.25zM349.25 355.80h4.50v2.30h-4.50zM358.25 355.80h11.25v2.30h-11.25zM353.75 358.05h4.50v2.30h-4.50zM365.00 358.05h2.25v2.30h-2.25zM293.00 360.30h2.25v2.30h-2.25zM356.00 362.55h2.25v2.30h-2.25zM293.00 364.80h2.25v2.30h-2.25zM356.00 364.80h4.50v2.30h-4.50zM295.25 367.05h2.25v2.30h-2.25zM358.25 369.30h4.50v2.30h-4.50zM295.25 371.55h4.50v2.30h-4.50zM297.50 373.80h4.50v2.30h-4.50zM358.25 373.80h2.25v2.30h-2.25zM302.00 376.05h4.50v2.30h-4.50zM304.25 378.30h4.50v2.30h-4.50zM353.75 380.55h2.25v2.30h-2.25zM315.50 382.80h2.25v2.30h-2.25zM320.00 382.80h2.25v2.30h-2.25zM324.50 382.80h2.25v2.30h-2.25zM315.50 385.05h2.25v2.30h-2.25zM322.25 385.05h2.25v2.30h-2.25zM329.00 385.05h2.25v2.30h-2.25zM335.75 385.05h6.75v2.30h-6.75zM342.50 387.30h4.50v2.30h-4.50zM349.25 387.30h4.50v2.30h-4.50zM340.25 389.55h11.25v2.30h-11.25zM342.50 391.80h6.75v2.30h-6.75zM344.75 394.05h4.50v2.30h-4.50zM277.25 441.30h2.25v2.30h-2.25zM279.50 443.55h2.25v2.30h-2.25zM279.50 448.05h2.25v2.30h-2.25zM279.50 450.30h2.25v2.30h-2.25zM279.50 454.80h2.25v2.30h-2.25zM299.75 236.55h2.25v2.30h-2.25zM299.75 238.80h11.25v2.30h-11.25zM306.50 241.05h2.25v2.30h-2.25z" fill="#00f0e0" shape-rendering="crispEdges"/>
<path d="M216.50 74.55h2.25v2.30h-2.25zM216.50 76.80h2.25v2.30h-2.25zM270.50 76.80h2.25v2.30h-2.25zM214.25 79.05h2.25v2.30h-2.25zM275.00 79.05h2.25v2.30h-2.25zM214.25 81.30h4.50v2.30h-4.50zM272.75 81.30h2.25v2.30h-2.25zM212.00 83.55h2.25v2.30h-2.25zM216.50 83.55h4.50v2.30h-4.50zM272.75 83.55h2.25v2.30h-2.25zM216.50 85.80h2.25v2.30h-2.25zM268.25 85.80h6.75v2.30h-6.75zM214.25 88.05h6.75v2.30h-6.75zM272.75 88.05h2.25v2.30h-2.25zM218.75 90.30h2.25v2.30h-2.25zM270.50 90.30h4.50v2.30h-4.50zM266.00 92.55h2.25v2.30h-2.25zM216.50 94.80h2.25v2.30h-2.25zM221.00 94.80h2.25v2.30h-2.25zM266.00 94.80h4.50v2.30h-4.50zM218.75 97.05h4.50v2.30h-4.50zM266.00 97.05h4.50v2.30h-4.50zM218.75 99.30h4.50v2.30h-4.50zM263.75 99.30h2.25v2.30h-2.25zM218.75 101.55h2.25v2.30h-2.25zM254.75 101.55h2.25v2.30h-2.25zM259.25 101.55h4.50v2.30h-4.50zM227.75 103.80h2.25v2.30h-2.25zM252.50 103.80h2.25v2.30h-2.25zM257.00 106.05h4.50v2.30h-4.50zM227.75 108.30h6.75v2.30h-6.75zM236.75 108.30h4.50v2.30h-4.50zM243.50 108.30h2.25v2.30h-2.25zM248.00 108.30h6.75v2.30h-6.75zM230.00 110.55h6.75v2.30h-6.75zM241.25 110.55h2.25v2.30h-2.25zM234.50 112.80h2.25v2.30h-2.25zM239.00 112.80h2.25v2.30h-2.25zM428.00 178.05h2.25v2.30h-2.25zM428.00 180.30h2.25v2.30h-2.25zM423.50 184.80h2.25v2.30h-2.25zM439.25 184.80h2.25v2.30h-2.25zM425.75 187.05h2.25v2.30h-2.25zM421.25 189.30h2.25v2.30h-2.25zM425.75 189.30h2.25v2.30h-2.25zM437.00 189.30h2.25v2.30h-2.25zM439.25 191.55h2.25v2.30h-2.25zM421.25 193.80h6.75v2.30h-6.75zM437.00 193.80h2.25v2.30h-2.25zM421.25 196.05h2.25v2.30h-2.25zM425.75 198.30h2.25v2.30h-2.25zM437.00 198.30h2.25v2.30h-2.25zM421.25 200.55h2.25v2.30h-2.25zM441.50 202.80h2.25v2.30h-2.25zM423.50 205.05h4.50v2.30h-4.50zM434.75 205.05h4.50v2.30h-4.50zM425.75 207.30h2.25v2.30h-2.25zM434.75 207.30h4.50v2.30h-4.50zM421.25 211.80h2.25v2.30h-2.25zM425.75 211.80h2.25v2.30h-2.25zM430.25 216.30h4.50v2.30h-4.50zM430.25 218.55h2.25v2.30h-2.25zM344.75 277.05h4.50v2.30h-4.50zM347.00 279.30h2.25v2.30h-2.25zM351.50 279.30h2.25v2.30h-2.25zM338.00 281.55h2.25v2.30h-2.25zM342.50 281.55h2.25v2.30h-2.25zM347.00 281.55h2.25v2.30h-2.25zM351.50 281.55h2.25v2.30h-2.25zM340.25 283.80h6.75v2.30h-6.75zM349.25 283.80h6.75v2.30h-6.75zM356.00 286.05h2.25v2.30h-2.25zM338.00 290.55h6.75v2.30h-6.75zM351.50 290.55h2.25v2.30h-2.25zM338.00 292.80h4.50v2.30h-4.50zM353.75 292.80h4.50v2.30h-4.50zM356.00 295.05h2.25v2.30h-2.25zM338.00 297.30h2.25v2.30h-2.25zM353.75 297.30h2.25v2.30h-2.25zM317.75 299.55h2.25v2.30h-2.25zM342.50 299.55h2.25v2.30h-2.25zM356.00 299.55h2.25v2.30h-2.25zM311.00 301.80h2.25v2.30h-2.25zM320.00 301.80h4.50v2.30h-4.50zM338.00 301.80h2.25v2.30h-2.25zM342.50 301.80h4.50v2.30h-4.50zM353.75 301.80h2.25v2.30h-2.25zM358.25 301.80h2.25v2.30h-2.25zM304.25 304.05h4.50v2.30h-4.50zM311.00 304.05h2.25v2.30h-2.25zM320.00 304.05h2.25v2.30h-2.25zM324.50 304.05h2.25v2.30h-2.25zM331.25 304.05h4.50v2.30h-4.50zM342.50 304.05h4.50v2.30h-4.50zM356.00 304.05h4.50v2.30h-4.50zM313.25 306.30h2.25v2.30h-2.25zM320.00 306.30h11.25v2.30h-11.25zM333.50 306.30h4.50v2.30h-4.50zM342.50 306.30h4.50v2.30h-4.50zM353.75 306.30h4.50v2.30h-4.50zM297.50 308.55h2.25v2.30h-2.25zM302.00 308.55h2.25v2.30h-2.25zM308.75 308.55h4.50v2.30h-4.50zM320.00 308.55h2.25v2.30h-2.25zM326.75 308.55h2.25v2.30h-2.25zM333.50 308.55h2.25v2.30h-2.25zM338.00 308.55h4.50v2.30h-4.50zM344.75 308.55h2.25v2.30h-2.25zM353.75 308.55h4.50v2.30h-4.50zM290.75 310.80h4.50v2.30h-4.50zM297.50 310.80h4.50v2.30h-4.50zM344.75 310.80h2.25v2.30h-2.25zM353.75 310.80h2.25v2.30h-2.25zM297.50 313.05h2.25v2.30h-2.25zM344.75 313.05h2.25v2.30h-2.25zM353.75 313.05h4.50v2.30h-4.50zM297.50 315.30h2.25v2.30h-2.25zM349.25 315.30h2.25v2.30h-2.25zM353.75 315.30h2.25v2.30h-2.25zM358.25 315.30h2.25v2.30h-2.25zM293.00 317.55h4.50v2.30h-4.50zM353.75 317.55h2.25v2.30h-2.25zM295.25 319.80h2.25v2.30h-2.25zM353.75 319.80h2.25v2.30h-2.25zM353.75 322.05h4.50v2.30h-4.50zM290.75 324.30h6.75v2.30h-6.75zM293.00 326.55h2.25v2.30h-2.25zM286.25 328.80h2.25v2.30h-2.25zM351.50 328.80h4.50v2.30h-4.50zM288.50 331.05h2.25v2.30h-2.25zM293.00 331.05h2.25v2.30h-2.25zM349.25 331.05h4.50v2.30h-4.50zM293.00 333.30h2.25v2.30h-2.25zM349.25 333.30h4.50v2.30h-4.50zM347.00 335.55h2.25v2.30h-2.25zM351.50 335.55h2.25v2.30h-2.25zM290.75 337.80h4.50v2.30h-4.50zM347.00 337.80h4.50v2.30h-4.50zM290.75 340.05h2.25v2.30h-2.25zM347.00 340.05h2.25v2.30h-2.25zM290.75 342.30h4.50v2.30h-4.50zM344.75 342.30h4.50v2.30h-4.50zM293.00 344.55h2.25v2.30h-2.25zM367.25 344.55h2.25v2.30h-2.25zM342.50 346.80h4.50v2.30h-4.50zM360.50 346.80h2.25v2.30h-2.25zM286.25 349.05h2.25v2.30h-2.25zM290.75 349.05h4.50v2.30h-4.50zM342.50 349.05h4.50v2.30h-4.50zM360.50 349.05h4.50v2.30h-4.50zM369.50 349.05h2.25v2.30h-2.25zM290.75 351.30h2.25v2.30h-2.25zM351.50 351.30h2.25v2.30h-2.25zM356.00 351.30h2.25v2.30h-2.25zM349.25 353.55h4.50v2.30h-4.50zM356.00 353.55h2.25v2.30h-2.25zM286.25 355.80h2.25v2.30h-2.25zM290.75 355.80h2.25v2.30h-2.25zM353.75 355.80h2.25v2.30h-2.25zM293.00 358.05h2.25v2.30h-2.25zM360.50 358.05h4.50v2.30h-4.50zM367.25 358.05h2.25v2.30h-2.25zM288.50 360.30h2.25v2.30h-2.25zM356.00 360.30h2.25v2.30h-2.25zM365.00 360.30h2.25v2.30h-2.25zM293.00 362.55h2.25v2.30h-2.25zM286.25 364.80h2.25v2.30h-2.25zM288.50 367.05h2.25v2.30h-2.25zM293.00 367.05h2.25v2.30h-2.25zM358.25 367.05h2.25v2.30h-2.25zM362.75 367.05h2.25v2.30h-2.25zM293.00 369.30h4.50v2.30h-4.50zM290.75 371.55h2.25v2.30h-2.25zM290.75 373.80h2.25v2.30h-2.25zM295.25 373.80h2.25v2.30h-2.25zM365.00 373.80h2.25v2.30h-2.25zM297.50 376.05h4.50v2.30h-4.50zM358.25 376.05h6.75v2.30h-6.75zM299.75 378.30h4.50v2.30h-4.50zM356.00 378.30h2.25v2.30h-2.25zM302.00 380.55h2.25v2.30h-2.25zM306.50 380.55h4.50v2.30h-4.50zM356.00 380.55h2.25v2.30h-2.25zM360.50 380.55h2.25v2.30h-2.25zM304.25 382.80h2.25v2.30h-2.25zM308.75 382.80h4.50v2.30h-4.50zM317.75 382.80h2.25v2.30h-2.25zM353.75 382.80h2.25v2.30h-2.25zM308.75 385.05h6.75v2.30h-6.75zM324.50 385.05h4.50v2.30h-4.50zM331.25 385.05h4.50v2.30h-4.50zM353.75 385.05h2.25v2.30h-2.25zM320.00 387.30h4.50v2.30h-4.50zM326.75 387.30h2.25v2.30h-2.25zM333.50 387.30h9.00v2.30h-9.00zM356.00 387.30h4.50v2.30h-4.50zM306.50 389.55h2.25v2.30h-2.25zM311.00 389.55h2.25v2.30h-2.25zM333.50 389.55h6.75v2.30h-6.75zM333.50 391.80h2.25v2.30h-2.25zM338.00 391.80h2.25v2.30h-2.25zM349.25 391.80h2.25v2.30h-2.25zM340.25 394.05h2.25v2.30h-2.25zM349.25 394.05h2.25v2.30h-2.25zM353.75 394.05h2.25v2.30h-2.25zM344.75 396.30h2.25v2.30h-2.25zM351.50 396.30h2.25v2.30h-2.25zM349.25 398.55h2.25v2.30h-2.25zM344.75 400.80h4.50v2.30h-4.50zM281.75 166.80h4.50v2.30h-4.50zM281.75 169.05h6.75v2.30h-6.75zM284.00 171.30h2.25v2.30h-2.25zM281.75 173.55h6.75v2.30h-6.75zM281.75 175.80h6.75v2.30h-6.75zM284.00 178.05h4.50v2.30h-4.50zM281.75 180.30h6.75v2.30h-6.75zM281.75 182.55h6.75v2.30h-6.75zM284.00 184.80h4.50v2.30h-4.50zM284.00 187.05h2.25v2.30h-2.25zM299.75 234.30h4.50v2.30h-4.50zM302.00 236.55h11.25v2.30h-11.25zM297.50 238.80h2.25v2.30h-2.25zM299.75 241.05h6.75v2.30h-6.75zM308.75 241.05h4.50v2.30h-4.50z" fill="#00d782" shape-rendering="crispEdges"/>
<path d="M275.00 72.30h2.25v2.30h-2.25zM277.25 76.80h2.25v2.30h-2.25zM275.00 81.30h4.50v2.30h-4.50zM275.00 83.55h2.25v2.30h-2.25zM277.25 88.05h2.25v2.30h-2.25zM272.75 94.80h2.25v2.30h-2.25zM268.25 99.30h2.25v2.30h-2.25zM263.75 101.55h2.25v2.30h-2.25zM259.25 103.80h4.50v2.30h-4.50zM266.00 103.80h2.25v2.30h-2.25zM250.25 106.05h6.75v2.30h-6.75zM245.75 108.30h2.25v2.30h-2.25zM254.75 108.30h4.50v2.30h-4.50zM241.25 112.80h2.25v2.30h-2.25zM245.75 112.80h2.25v2.30h-2.25zM428.00 175.80h2.25v2.30h-2.25zM421.25 178.05h2.25v2.30h-2.25zM432.50 178.05h2.25v2.30h-2.25zM425.75 180.30h2.25v2.30h-2.25zM430.25 180.30h6.75v2.30h-6.75zM428.00 182.55h4.50v2.30h-4.50zM437.00 182.55h2.25v2.30h-2.25zM437.00 184.80h2.25v2.30h-2.25zM421.25 187.05h4.50v2.30h-4.50zM434.75 187.05h2.25v2.30h-2.25zM439.25 189.30h2.25v2.30h-2.25zM421.25 191.55h2.25v2.30h-2.25zM434.75 191.55h2.25v2.30h-2.25zM416.75 193.80h2.25v2.30h-2.25zM434.75 193.80h2.25v2.30h-2.25zM439.25 193.80h4.50v2.30h-4.50zM423.50 196.05h2.25v2.30h-2.25zM437.00 196.05h2.25v2.30h-2.25zM441.50 196.05h2.25v2.30h-2.25zM416.75 198.30h2.25v2.30h-2.25zM421.25 198.30h4.50v2.30h-4.50zM439.25 198.30h2.25v2.30h-2.25zM419.00 200.55h2.25v2.30h-2.25zM421.25 202.80h4.50v2.30h-4.50zM437.00 202.80h2.25v2.30h-2.25zM419.00 205.05h2.25v2.30h-2.25zM439.25 205.05h2.25v2.30h-2.25zM423.50 207.30h2.25v2.30h-2.25zM439.25 207.30h4.50v2.30h-4.50zM419.00 209.55h2.25v2.30h-2.25zM439.25 209.55h4.50v2.30h-4.50zM419.00 211.80h2.25v2.30h-2.25zM423.50 211.80h2.25v2.30h-2.25zM437.00 211.80h6.75v2.30h-6.75zM425.75 214.05h2.25v2.30h-2.25zM437.00 214.05h9.00v2.30h-9.00zM428.00 216.30h2.25v2.30h-2.25zM434.75 216.30h11.25v2.30h-11.25zM448.25 216.30h2.25v2.30h-2.25zM432.50 218.55h2.25v2.30h-2.25zM437.00 218.55h6.75v2.30h-6.75zM446.00 218.55h2.25v2.30h-2.25zM439.25 220.80h11.25v2.30h-11.25zM439.25 223.05h11.25v2.30h-11.25zM441.50 225.30h9.00v2.30h-9.00zM443.75 227.55h4.50v2.30h-4.50zM414.50 110.55h2.25v2.30h-2.25zM412.25 112.80h6.75v2.30h-6.75zM407.75 115.05h13.50v2.30h-13.50zM412.25 117.30h9.00v2.30h-9.00zM407.75 119.55h2.25v2.30h-2.25zM412.25 119.55h9.00v2.30h-9.00zM410.00 121.80h4.50v2.30h-4.50zM416.75 121.80h2.25v2.30h-2.25zM412.25 124.05h11.25v2.30h-11.25zM410.00 126.30h11.25v2.30h-11.25zM412.25 128.55h11.25v2.30h-11.25zM410.00 130.80h2.25v2.30h-2.25zM414.50 130.80h2.25v2.30h-2.25zM419.00 130.80h2.25v2.30h-2.25zM396.50 72.30h9.00v2.30h-9.00zM396.50 74.55h13.50v2.30h-13.50zM396.50 76.80h6.75v2.30h-6.75zM401.00 79.05h6.75v2.30h-6.75zM396.50 81.30h4.50v2.30h-4.50zM405.50 81.30h2.25v2.30h-2.25zM342.50 272.55h4.50v2.30h-4.50zM344.75 274.80h2.25v2.30h-2.25zM351.50 274.80h4.50v2.30h-4.50zM342.50 277.05h2.25v2.30h-2.25zM349.25 277.05h2.25v2.30h-2.25zM353.75 277.05h2.25v2.30h-2.25zM338.00 279.30h4.50v2.30h-4.50zM344.75 279.30h2.25v2.30h-2.25zM349.25 279.30h2.25v2.30h-2.25zM356.00 279.30h2.25v2.30h-2.25zM340.25 281.55h2.25v2.30h-2.25zM353.75 281.55h6.75v2.30h-6.75zM356.00 283.80h2.25v2.30h-2.25zM338.00 286.05h6.75v2.30h-6.75zM353.75 286.05h2.25v2.30h-2.25zM360.50 286.05h2.25v2.30h-2.25zM340.25 288.30h2.25v2.30h-2.25zM356.00 288.30h2.25v2.30h-2.25zM335.75 290.55h2.25v2.30h-2.25zM358.25 290.55h2.25v2.30h-2.25zM335.75 292.80h2.25v2.30h-2.25zM360.50 292.80h2.25v2.30h-2.25zM335.75 295.05h2.25v2.30h-2.25zM342.50 295.05h2.25v2.30h-2.25zM353.75 295.05h2.25v2.30h-2.25zM358.25 295.05h2.25v2.30h-2.25zM320.00 297.30h4.50v2.30h-4.50zM326.75 297.30h2.25v2.30h-2.25zM335.75 297.30h2.25v2.30h-2.25zM342.50 297.30h2.25v2.30h-2.25zM356.00 297.30h2.25v2.30h-2.25zM360.50 297.30h2.25v2.30h-2.25zM320.00 299.55h2.25v2.30h-2.25zM333.50 299.55h2.25v2.30h-2.25zM338.00 299.55h4.50v2.30h-4.50zM358.25 299.55h4.50v2.30h-4.50zM324.50 301.80h4.50v2.30h-4.50zM333.50 301.80h4.50v2.30h-4.50zM356.00 301.80h2.25v2.30h-2.25zM329.00 304.05h2.25v2.30h-2.25zM335.75 304.05h2.25v2.30h-2.25zM340.25 304.05h2.25v2.30h-2.25zM338.00 306.30h4.50v2.30h-4.50zM358.25 306.30h2.25v2.30h-2.25zM342.50 308.55h2.25v2.30h-2.25zM360.50 310.80h2.25v2.30h-2.25zM358.25 313.05h2.25v2.30h-2.25zM351.50 315.30h2.25v2.30h-2.25zM356.00 315.30h2.25v2.30h-2.25zM358.25 317.55h4.50v2.30h-4.50zM351.50 319.80h2.25v2.30h-2.25zM356.00 319.80h2.25v2.30h-2.25zM351.50 322.05h2.25v2.30h-2.25zM358.25 322.05h2.25v2.30h-2.25zM351.50 324.30h2.25v2.30h-2.25zM351.50 326.55h4.50v2.30h-4.50zM356.00 328.80h2.25v2.30h-2.25zM356.00 331.05h2.25v2.30h-2.25zM356.00 333.30h2.25v2.30h-2.25zM362.75 342.30h2.25v2.30h-2.25zM369.50 342.30h2.25v2.30h-2.25zM365.00 346.80h4.50v2.30h-4.50zM367.25 349.05h2.25v2.30h-2.25zM371.75 349.05h2.25v2.30h-2.25zM369.50 351.30h2.25v2.30h-2.25zM374.00 351.30h2.25v2.30h-2.25zM369.50 353.55h2.25v2.30h-2.25zM374.00 355.80h2.25v2.30h-2.25zM369.50 358.05h4.50v2.30h-4.50zM371.75 360.30h2.25v2.30h-2.25zM367.25 362.55h4.50v2.30h-4.50zM367.25 364.80h2.25v2.30h-2.25zM367.25 367.05h2.25v2.30h-2.25zM367.25 369.30h4.50v2.30h-4.50zM362.75 371.55h2.25v2.30h-2.25zM369.50 371.55h2.25v2.30h-2.25zM362.75 373.80h2.25v2.30h-2.25zM369.50 373.80h2.25v2.30h-2.25zM365.00 376.05h6.75v2.30h-6.75zM362.75 378.30h2.25v2.30h-2.25zM362.75 382.80h4.50v2.30h-4.50zM360.50 385.05h2.25v2.30h-2.25zM365.00 385.05h2.25v2.30h-2.25zM360.50 387.30h2.25v2.30h-2.25zM279.50 164.55h11.25v2.30h-11.25zM288.50 166.80h2.25v2.30h-2.25zM281.75 171.30h2.25v2.30h-2.25zM286.25 171.30h4.50v2.30h-4.50zM288.50 173.55h2.25v2.30h-2.25zM288.50 175.80h2.25v2.30h-2.25zM281.75 178.05h2.25v2.30h-2.25zM288.50 178.05h2.25v2.30h-2.25zM288.50 180.30h2.25v2.30h-2.25zM288.50 182.55h2.25v2.30h-2.25zM288.50 184.80h4.50v2.30h-4.50zM286.25 187.05h6.75v2.30h-6.75zM286.25 189.30h6.75v2.30h-6.75zM286.25 191.55h6.75v2.30h-6.75zM284.00 193.80h6.75v2.30h-6.75zM286.25 196.05h6.75v2.30h-6.75zM288.50 198.30h4.50v2.30h-4.50zM288.50 200.55h2.25v2.30h-2.25zM288.50 202.80h6.75v2.30h-6.75zM286.25 205.05h6.75v2.30h-6.75zM288.50 207.30h6.75v2.30h-6.75zM290.75 209.55h6.75v2.30h-6.75zM290.75 211.80h4.50v2.30h-4.50zM290.75 214.05h9.00v2.30h-9.00zM295.25 216.30h2.25v2.30h-2.25zM295.25 218.55h4.50v2.30h-4.50zM293.00 220.80h9.00v2.30h-9.00zM297.50 223.05h4.50v2.30h-4.50zM295.25 225.30h9.00v2.30h-9.00zM295.25 227.55h9.00v2.30h-9.00zM299.75 229.80h6.75v2.30h-6.75zM297.50 232.05h6.75v2.30h-6.75zM297.50 236.55h2.25v2.30h-2.25zM311.00 238.80h2.25v2.30h-2.25zM302.00 243.30h2.25v2.30h-2.25zM306.50 243.30h2.25v2.30h-2.25z" fill="#0ab92d" shape-rendering="crispEdges"/>
<path d="M277.25 74.55h2.25v2.30h-2.25zM432.50 173.55h2.25v2.30h-2.25zM421.25 175.80h6.75v2.30h-6.75zM430.25 175.80h2.25v2.30h-2.25zM423.50 178.05h2.25v2.30h-2.25zM434.75 178.05h4.50v2.30h-4.50zM419.00 180.30h6.75v2.30h-6.75zM439.25 180.30h4.50v2.30h-4.50zM419.00 182.55h2.25v2.30h-2.25zM423.50 182.55h2.25v2.30h-2.25zM434.75 182.55h2.25v2.30h-2.25zM439.25 182.55h2.25v2.30h-2.25zM416.75 184.80h2.25v2.30h-2.25zM421.25 184.80h2.25v2.30h-2.25zM441.50 184.80h2.25v2.30h-2.25zM416.75 187.05h4.50v2.30h-4.50zM437.00 187.05h6.75v2.30h-6.75zM416.75 189.30h4.50v2.30h-4.50zM441.50 189.30h4.50v2.30h-4.50zM414.50 191.55h2.25v2.30h-2.25zM419.00 191.55h2.25v2.30h-2.25zM419.00 193.80h2.25v2.30h-2.25zM416.75 196.05h4.50v2.30h-4.50zM439.25 196.05h2.25v2.30h-2.25zM443.75 196.05h2.25v2.30h-2.25zM419.00 198.30h2.25v2.30h-2.25zM416.75 200.55h2.25v2.30h-2.25zM439.25 200.55h2.25v2.30h-2.25zM443.75 200.55h4.50v2.30h-4.50zM439.25 202.80h2.25v2.30h-2.25zM416.75 205.05h2.25v2.30h-2.25zM421.25 205.05h2.25v2.30h-2.25zM441.50 205.05h2.25v2.30h-2.25zM421.25 207.30h2.25v2.30h-2.25zM446.00 209.55h2.25v2.30h-2.25zM416.75 211.80h2.25v2.30h-2.25zM443.75 211.80h4.50v2.30h-4.50zM419.00 214.05h4.50v2.30h-4.50zM432.50 214.05h4.50v2.30h-4.50zM421.25 216.30h2.25v2.30h-2.25zM425.75 216.30h2.25v2.30h-2.25zM421.25 218.55h2.25v2.30h-2.25zM443.75 218.55h2.25v2.30h-2.25zM448.25 218.55h4.50v2.30h-4.50zM423.50 220.80h2.25v2.30h-2.25zM428.00 220.80h2.25v2.30h-2.25zM434.75 220.80h2.25v2.30h-2.25zM450.50 223.05h4.50v2.30h-4.50zM410.00 110.55h4.50v2.30h-4.50zM410.00 112.80h2.25v2.30h-2.25zM419.00 112.80h2.25v2.30h-2.25zM421.25 115.05h2.25v2.30h-2.25zM421.25 119.55h2.25v2.30h-2.25zM407.75 121.80h2.25v2.30h-2.25zM414.50 121.80h2.25v2.30h-2.25zM419.00 121.80h4.50v2.30h-4.50zM412.25 130.80h2.25v2.30h-2.25zM416.75 130.80h2.25v2.30h-2.25zM423.50 130.80h2.25v2.30h-2.25zM414.50 133.05h4.50v2.30h-4.50zM405.50 72.30h2.25v2.30h-2.25zM394.25 76.80h2.25v2.30h-2.25zM403.25 76.80h4.50v2.30h-4.50zM396.50 79.05h4.50v2.30h-4.50zM407.75 79.05h2.25v2.30h-2.25zM394.25 81.30h2.25v2.30h-2.25zM401.00 81.30h4.50v2.30h-4.50zM407.75 81.30h2.25v2.30h-2.25zM396.50 83.55h4.50v2.30h-4.50zM405.50 83.55h4.50v2.30h-4.50zM398.75 85.80h2.25v2.30h-2.25zM669.50 234.30h1.50v1.55h-1.50zM669.50 235.80h3.00v1.55h-3.00zM669.50 237.30h3.00v1.55h-3.00z" fill="#4bc314" shape-rendering="crispEdges"/>
<path d="M434.75 175.80h2.25v2.30h-2.25zM425.75 178.05h2.25v2.30h-2.25zM430.25 178.05h2.25v2.30h-2.25zM439.25 178.05h2.25v2.30h-2.25zM414.50 180.30h2.25v2.30h-2.25zM437.00 180.30h2.25v2.30h-2.25zM412.25 182.55h4.50v2.30h-4.50zM421.25 182.55h2.25v2.30h-2.25zM443.75 182.55h2.25v2.30h-2.25zM419.00 184.80h2.25v2.30h-2.25zM443.75 187.05h2.25v2.30h-2.25zM414.50 189.30h2.25v2.30h-2.25zM412.25 191.55h2.25v2.30h-2.25zM416.75 191.55h2.25v2.30h-2.25zM441.50 191.55h2.25v2.30h-2.25zM414.50 193.80h2.25v2.30h-2.25zM446.00 193.80h2.25v2.30h-2.25zM412.25 196.05h2.25v2.30h-2.25zM414.50 198.30h2.25v2.30h-2.25zM441.50 198.30h2.25v2.30h-2.25zM446.00 198.30h2.25v2.30h-2.25zM414.50 200.55h2.25v2.30h-2.25zM441.50 200.55h2.25v2.30h-2.25zM416.75 202.80h4.50v2.30h-4.50zM443.75 202.80h4.50v2.30h-4.50zM443.75 205.05h2.25v2.30h-2.25zM419.00 207.30h2.25v2.30h-2.25zM443.75 207.30h2.25v2.30h-2.25zM414.50 209.55h4.50v2.30h-4.50zM421.25 209.55h2.25v2.30h-2.25zM443.75 209.55h2.25v2.30h-2.25zM414.50 211.80h2.25v2.30h-2.25zM448.25 211.80h2.25v2.30h-2.25zM423.50 214.05h2.25v2.30h-2.25zM446.00 214.05h4.50v2.30h-4.50zM416.75 216.30h4.50v2.30h-4.50zM423.50 216.30h2.25v2.30h-2.25zM446.00 216.30h2.25v2.30h-2.25zM425.75 218.55h4.50v2.30h-4.50zM434.75 218.55h2.25v2.30h-2.25zM430.25 220.80h4.50v2.30h-4.50zM437.00 220.80h2.25v2.30h-2.25zM450.50 220.80h4.50v2.30h-4.50zM425.75 223.05h2.25v2.30h-2.25zM437.00 223.05h2.25v2.30h-2.25zM439.25 225.30h2.25v2.30h-2.25zM450.50 225.30h2.25v2.30h-2.25zM439.25 227.55h4.50v2.30h-4.50zM448.25 227.55h4.50v2.30h-4.50zM446.00 229.80h2.25v2.30h-2.25zM412.25 108.30h4.50v2.30h-4.50zM407.75 110.55h2.25v2.30h-2.25zM419.00 110.55h2.25v2.30h-2.25zM405.50 117.30h6.75v2.30h-6.75zM421.25 117.30h2.25v2.30h-2.25zM410.00 119.55h2.25v2.30h-2.25zM423.50 121.80h2.25v2.30h-2.25zM425.75 124.05h2.25v2.30h-2.25zM421.25 126.30h2.25v2.30h-2.25zM410.00 128.55h2.25v2.30h-2.25zM423.50 128.55h4.50v2.30h-4.50zM421.25 130.80h2.25v2.30h-2.25zM412.25 133.05h2.25v2.30h-2.25zM419.00 133.05h2.25v2.30h-2.25zM394.25 72.30h2.25v2.30h-2.25zM392.00 74.55h4.50v2.30h-4.50zM392.00 79.05h2.25v2.30h-2.25zM401.00 83.55h2.25v2.30h-2.25zM403.25 85.80h2.25v2.30h-2.25zM407.75 85.80h2.25v2.30h-2.25z" fill="#a0e10a" shape-rendering="crispEdges"/>
<path d="M432.50 171.30h2.25v2.30h-2.25zM425.75 173.55h4.50v2.30h-4.50zM434.75 173.55h2.25v2.30h-2.25zM416.75 175.80h4.50v2.30h-4.50zM432.50 175.80h2.25v2.30h-2.25zM437.00 175.80h2.25v2.30h-2.25zM419.00 178.05h2.25v2.30h-2.25zM441.50 178.05h2.25v2.30h-2.25zM443.75 180.30h2.25v2.30h-2.25zM416.75 182.55h2.25v2.30h-2.25zM441.50 182.55h2.25v2.30h-2.25zM414.50 184.80h2.25v2.30h-2.25zM443.75 184.80h4.50v2.30h-4.50zM414.50 187.05h2.25v2.30h-2.25zM446.00 189.30h2.25v2.30h-2.25zM443.75 191.55h2.25v2.30h-2.25zM443.75 193.80h2.25v2.30h-2.25zM446.00 196.05h2.25v2.30h-2.25zM443.75 198.30h2.25v2.30h-2.25zM450.50 214.05h2.25v2.30h-2.25zM450.50 216.30h2.25v2.30h-2.25zM430.25 223.05h2.25v2.30h-2.25zM452.75 225.30h2.25v2.30h-2.25zM437.00 227.55h2.25v2.30h-2.25zM441.50 229.80h4.50v2.30h-4.50zM412.25 106.05h6.75v2.30h-6.75zM421.25 108.30h2.25v2.30h-2.25zM416.75 110.55h2.25v2.30h-2.25zM421.25 110.55h2.25v2.30h-2.25zM421.25 112.80h2.25v2.30h-2.25zM423.50 119.55h4.50v2.30h-4.50zM405.50 124.05h2.25v2.30h-2.25zM410.00 124.05h2.25v2.30h-2.25zM423.50 124.05h2.25v2.30h-2.25zM407.75 126.30h2.25v2.30h-2.25zM405.50 128.55h4.50v2.30h-4.50zM407.75 130.80h2.25v2.30h-2.25zM407.75 133.05h2.25v2.30h-2.25zM421.25 133.05h2.25v2.30h-2.25zM392.00 72.30h2.25v2.30h-2.25zM407.75 72.30h2.25v2.30h-2.25zM392.00 76.80h2.25v2.30h-2.25zM407.75 76.80h4.50v2.30h-4.50zM394.25 79.05h2.25v2.30h-2.25zM412.25 79.05h2.25v2.30h-2.25zM392.00 81.30h2.25v2.30h-2.25zM412.25 81.30h2.25v2.30h-2.25zM392.00 83.55h2.25v2.30h-2.25zM403.25 83.55h2.25v2.30h-2.25zM410.00 83.55h2.25v2.30h-2.25zM401.00 85.80h2.25v2.30h-2.25zM405.50 85.80h2.25v2.30h-2.25zM398.75 88.05h2.25v2.30h-2.25zM403.25 88.05h2.25v2.30h-2.25zM662.00 226.80h3.00v1.55h-3.00zM663.50 228.30h1.50v1.55h-1.50zM669.50 228.30h1.50v1.55h-1.50zM662.00 229.80h1.50v1.55h-1.50zM665.00 229.80h6.00v1.55h-6.00zM672.50 229.80h1.50v1.55h-1.50zM675.50 229.80h1.50v1.55h-1.50zM666.50 231.30h1.50v1.55h-1.50zM671.00 231.30h3.00v1.55h-3.00zM662.00 232.80h3.00v1.55h-3.00zM666.50 232.80h1.50v1.55h-1.50zM671.00 232.80h3.00v1.55h-3.00zM659.00 234.30h1.50v1.55h-1.50zM662.00 234.30h1.50v1.55h-1.50zM666.50 234.30h3.00v1.55h-3.00zM671.00 234.30h3.00v1.55h-3.00zM665.00 235.80h1.50v1.55h-1.50zM663.50 237.30h6.00v1.55h-6.00zM674.00 237.30h1.50v1.55h-1.50zM665.00 238.80h3.00v1.55h-3.00zM669.50 238.80h3.00v1.55h-3.00zM662.00 240.30h1.50v1.55h-1.50zM666.50 240.30h1.50v1.55h-1.50zM669.50 240.30h3.00v1.55h-3.00zM675.50 240.30h1.50v1.55h-1.50zM662.00 241.80h1.50v1.55h-1.50zM668.00 241.80h3.00v1.55h-3.00zM674.00 241.80h3.00v1.55h-3.00zM662.00 243.30h1.50v1.55h-1.50zM666.50 243.30h4.50v1.55h-4.50zM666.50 244.80h1.50v1.55h-1.50zM671.00 244.80h1.50v1.55h-1.50z" fill="#ffff00" shape-rendering="crispEdges"/>
<path d="M666.50 223.80h1.50v1.55h-1.50zM669.50 223.80h1.50v1.55h-1.50zM666.50 228.30h1.50v1.55h-1.50zM659.00 229.80h1.50v1.55h-1.50zM677.00 229.80h1.50v1.55h-1.50zM660.50 231.30h1.50v1.55h-1.50zM663.50 231.30h3.00v1.55h-3.00zM668.00 231.30h3.00v1.55h-3.00zM665.00 232.80h1.50v1.55h-1.50zM668.00 232.80h3.00v1.55h-3.00zM677.00 232.80h1.50v1.55h-1.50zM663.50 234.30h3.00v1.55h-3.00zM674.00 234.30h1.50v1.55h-1.50zM659.00 235.80h1.50v1.55h-1.50zM662.00 235.80h3.00v1.55h-3.00zM666.50 235.80h1.50v1.55h-1.50zM672.50 235.80h3.00v1.55h-3.00zM677.00 235.80h1.50v1.55h-1.50zM660.50 237.30h3.00v1.55h-3.00zM677.00 237.30h1.50v1.55h-1.50zM662.00 238.80h3.00v1.55h-3.00zM668.00 238.80h1.50v1.55h-1.50zM674.00 238.80h1.50v1.55h-1.50zM668.00 240.30h1.50v1.55h-1.50zM672.50 240.30h3.00v1.55h-3.00zM663.50 241.80h1.50v1.55h-1.50zM671.00 241.80h1.50v1.55h-1.50zM678.50 241.80h1.50v1.55h-1.50zM663.50 243.30h1.50v1.55h-1.50zM674.00 243.30h1.50v1.55h-1.50zM660.50 244.80h1.50v1.55h-1.50zM663.50 244.80h1.50v1.55h-1.50zM669.50 244.80h1.50v1.55h-1.50zM672.50 244.80h3.00v1.55h-3.00zM672.50 246.30h3.00v1.55h-3.00zM666.50 249.30h1.50v1.55h-1.50zM672.50 249.30h1.50v1.55h-1.50z" fill="#ffdc00" shape-rendering="crispEdges"/>
<path d="M663.50 220.80h1.50v1.55h-1.50zM663.50 222.30h1.50v1.55h-1.50zM662.00 223.80h3.00v1.55h-3.00zM678.50 223.80h1.50v1.55h-1.50zM659.00 225.30h3.00v1.55h-3.00zM666.50 225.30h1.50v1.55h-1.50zM674.00 225.30h1.50v1.55h-1.50zM678.50 225.30h1.50v1.55h-1.50zM657.50 226.80h1.50v1.55h-1.50zM665.00 226.80h1.50v1.55h-1.50zM668.00 226.80h4.50v1.55h-4.50zM657.50 228.30h1.50v1.55h-1.50zM660.50 228.30h1.50v1.55h-1.50zM668.00 228.30h1.50v1.55h-1.50zM672.50 228.30h1.50v1.55h-1.50zM656.00 229.80h1.50v1.55h-1.50zM671.00 229.80h1.50v1.55h-1.50zM662.00 231.30h1.50v1.55h-1.50zM680.00 232.80h1.50v1.55h-1.50zM677.00 234.30h3.00v1.55h-3.00zM668.00 235.80h1.50v1.55h-1.50zM675.50 235.80h1.50v1.55h-1.50zM678.50 235.80h1.50v1.55h-1.50zM672.50 237.30h1.50v1.55h-1.50zM659.00 238.80h1.50v1.55h-1.50zM672.50 238.80h1.50v1.55h-1.50zM678.50 238.80h1.50v1.55h-1.50zM663.50 240.30h3.00v1.55h-3.00zM680.00 240.30h1.50v1.55h-1.50zM660.50 241.80h1.50v1.55h-1.50zM665.00 241.80h3.00v1.55h-3.00zM672.50 241.80h1.50v1.55h-1.50zM671.00 243.30h1.50v1.55h-1.50zM675.50 243.30h3.00v1.55h-3.00zM668.00 244.80h1.50v1.55h-1.50zM680.00 244.80h1.50v1.55h-1.50zM657.50 246.30h1.50v1.55h-1.50zM660.50 246.30h6.00v1.55h-6.00zM669.50 246.30h1.50v1.55h-1.50zM668.00 247.80h1.50v1.55h-1.50zM677.00 247.80h1.50v1.55h-1.50zM662.00 249.30h1.50v1.55h-1.50zM674.00 249.30h1.50v1.55h-1.50zM674.00 250.80h1.50v1.55h-1.50z" fill="#ffb900" shape-rendering="crispEdges"/>
<path d="M666.50 217.80h1.50v1.55h-1.50zM663.50 219.30h1.50v1.55h-1.50zM666.50 219.30h1.50v1.55h-1.50zM674.00 219.30h1.50v1.55h-1.50zM660.50 222.30h1.50v1.55h-1.50zM666.50 222.30h1.50v1.55h-1.50zM669.50 222.30h1.50v1.55h-1.50zM665.00 223.80h1.50v1.55h-1.50zM674.00 223.80h1.50v1.55h-1.50zM680.00 223.80h1.50v1.55h-1.50zM663.50 225.30h1.50v1.55h-1.50zM669.50 225.30h1.50v1.55h-1.50zM672.50 225.30h1.50v1.55h-1.50zM672.50 226.80h1.50v1.55h-1.50zM659.00 228.30h1.50v1.55h-1.50zM662.00 228.30h1.50v1.55h-1.50zM665.00 228.30h1.50v1.55h-1.50zM671.00 228.30h1.50v1.55h-1.50zM674.00 228.30h3.00v1.55h-3.00zM654.50 229.80h1.50v1.55h-1.50zM657.50 229.80h1.50v1.55h-1.50zM660.50 229.80h1.50v1.55h-1.50zM663.50 229.80h1.50v1.55h-1.50zM654.50 231.30h1.50v1.55h-1.50zM675.50 231.30h3.00v1.55h-3.00zM653.00 232.80h1.50v1.55h-1.50zM660.50 232.80h1.50v1.55h-1.50zM674.00 232.80h3.00v1.55h-3.00zM653.00 234.30h1.50v1.55h-1.50zM654.50 235.80h1.50v1.55h-1.50zM657.50 235.80h1.50v1.55h-1.50zM657.50 237.30h1.50v1.55h-1.50zM680.00 237.30h3.00v1.55h-3.00zM651.50 238.80h3.00v1.55h-3.00zM675.50 238.80h3.00v1.55h-3.00zM653.00 240.30h1.50v1.55h-1.50zM659.00 240.30h1.50v1.55h-1.50zM677.00 240.30h1.50v1.55h-1.50zM654.50 243.30h1.50v1.55h-1.50zM659.00 243.30h3.00v1.55h-3.00zM665.00 243.30h1.50v1.55h-1.50zM672.50 243.30h1.50v1.55h-1.50zM656.00 244.80h1.50v1.55h-1.50zM659.00 244.80h1.50v1.55h-1.50zM681.50 244.80h1.50v1.55h-1.50zM668.00 246.30h1.50v1.55h-1.50zM662.00 247.80h1.50v1.55h-1.50zM665.00 247.80h1.50v1.55h-1.50zM669.50 247.80h4.50v1.55h-4.50zM663.50 249.30h3.00v1.55h-3.00zM668.00 249.30h4.50v1.55h-4.50zM678.50 249.30h1.50v1.55h-1.50zM672.50 250.80h1.50v1.55h-1.50zM680.00 250.80h1.50v1.55h-1.50zM660.50 252.30h1.50v1.55h-1.50zM663.50 252.30h1.50v1.55h-1.50zM666.50 252.30h1.50v1.55h-1.50zM674.00 252.30h4.50v1.55h-4.50zM671.00 253.80h1.50v1.55h-1.50zM674.00 253.80h1.50v1.55h-1.50z" fill="#ff9100" shape-rendering="crispEdges"/>
<path d="M663.50 217.80h1.50v1.55h-1.50zM668.00 217.80h1.50v1.55h-1.50zM672.50 217.80h1.50v1.55h-1.50zM665.00 220.80h1.50v1.55h-1.50zM669.50 220.80h1.50v1.55h-1.50zM674.00 220.80h1.50v1.55h-1.50zM678.50 220.80h1.50v1.55h-1.50zM665.00 222.30h1.50v1.55h-1.50zM668.00 222.30h1.50v1.55h-1.50zM671.00 222.30h3.00v1.55h-3.00zM677.00 222.30h4.50v1.55h-4.50zM668.00 223.80h1.50v1.55h-1.50zM671.00 223.80h3.00v1.55h-3.00zM677.00 223.80h1.50v1.55h-1.50zM656.00 225.30h1.50v1.55h-1.50zM662.00 225.30h1.50v1.55h-1.50zM665.00 225.30h1.50v1.55h-1.50zM671.00 225.30h1.50v1.55h-1.50zM675.50 225.30h1.50v1.55h-1.50zM680.00 225.30h1.50v1.55h-1.50zM653.00 226.80h1.50v1.55h-1.50zM666.50 226.80h1.50v1.55h-1.50zM675.50 226.80h1.50v1.55h-1.50zM678.50 226.80h1.50v1.55h-1.50zM653.00 228.30h1.50v1.55h-1.50zM678.50 228.30h1.50v1.55h-1.50zM681.50 228.30h1.50v1.55h-1.50zM674.00 229.80h1.50v1.55h-1.50zM681.50 229.80h1.50v1.55h-1.50zM656.00 231.30h3.00v1.55h-3.00zM674.00 231.30h1.50v1.55h-1.50zM678.50 232.80h1.50v1.55h-1.50zM657.50 234.30h1.50v1.55h-1.50zM660.50 234.30h1.50v1.55h-1.50zM675.50 234.30h1.50v1.55h-1.50zM681.50 234.30h1.50v1.55h-1.50zM656.00 235.80h1.50v1.55h-1.50zM660.50 235.80h1.50v1.55h-1.50zM654.50 237.30h1.50v1.55h-1.50zM659.00 237.30h1.50v1.55h-1.50zM675.50 237.30h1.50v1.55h-1.50zM660.50 238.80h1.50v1.55h-1.50zM683.00 238.80h1.50v1.55h-1.50zM660.50 240.30h1.50v1.55h-1.50zM678.50 240.30h1.50v1.55h-1.50zM681.50 240.30h1.50v1.55h-1.50zM654.50 241.80h3.00v1.55h-3.00zM659.00 241.80h1.50v1.55h-1.50zM680.00 241.80h3.00v1.55h-3.00zM653.00 243.30h1.50v1.55h-1.50zM656.00 243.30h3.00v1.55h-3.00zM653.00 244.80h1.50v1.55h-1.50zM662.00 244.80h1.50v1.55h-1.50zM665.00 244.80h1.50v1.55h-1.50zM675.50 244.80h1.50v1.55h-1.50zM654.50 246.30h1.50v1.55h-1.50zM659.00 246.30h1.50v1.55h-1.50zM666.50 246.30h1.50v1.55h-1.50zM675.50 246.30h1.50v1.55h-1.50zM683.00 247.80h1.50v1.55h-1.50zM659.00 250.80h1.50v1.55h-1.50zM668.00 250.80h3.00v1.55h-3.00zM675.50 250.80h1.50v1.55h-1.50zM665.00 252.30h1.50v1.55h-1.50zM678.50 252.30h1.50v1.55h-1.50zM660.50 253.80h1.50v1.55h-1.50zM663.50 253.80h1.50v1.55h-1.50zM666.50 253.80h1.50v1.55h-1.50z" fill="#ff5500" shape-rendering="crispEdges"/>
<path d="M669.50 217.80h3.00v1.55h-3.00zM659.00 219.30h1.50v1.55h-1.50zM665.00 219.30h1.50v1.55h-1.50zM668.00 219.30h1.50v1.55h-1.50zM675.50 219.30h1.50v1.55h-1.50zM657.50 220.80h1.50v1.55h-1.50zM660.50 220.80h1.50v1.55h-1.50zM666.50 220.80h1.50v1.55h-1.50zM677.00 220.80h1.50v1.55h-1.50zM675.50 222.30h1.50v1.55h-1.50zM654.50 223.80h4.50v1.55h-4.50zM681.50 223.80h1.50v1.55h-1.50zM668.00 225.30h1.50v1.55h-1.50zM681.50 225.30h1.50v1.55h-1.50zM656.00 226.80h1.50v1.55h-1.50zM659.00 226.80h3.00v1.55h-3.00zM674.00 226.80h1.50v1.55h-1.50zM677.00 226.80h1.50v1.55h-1.50zM651.50 228.30h1.50v1.55h-1.50zM656.00 228.30h1.50v1.55h-1.50zM680.00 228.30h1.50v1.55h-1.50zM683.00 228.30h1.50v1.55h-1.50zM651.50 229.80h3.00v1.55h-3.00zM680.00 229.80h1.50v1.55h-1.50zM651.50 231.30h3.00v1.55h-3.00zM659.00 231.30h1.50v1.55h-1.50zM678.50 231.30h4.50v1.55h-4.50zM651.50 232.80h1.50v1.55h-1.50zM657.50 232.80h3.00v1.55h-3.00zM683.00 232.80h1.50v1.55h-1.50zM651.50 234.30h1.50v1.55h-1.50zM680.00 234.30h1.50v1.55h-1.50zM681.50 235.80h1.50v1.55h-1.50zM651.50 237.30h1.50v1.55h-1.50zM656.00 237.30h1.50v1.55h-1.50zM678.50 237.30h1.50v1.55h-1.50zM656.00 238.80h1.50v1.55h-1.50zM680.00 238.80h3.00v1.55h-3.00zM656.00 240.30h3.00v1.55h-3.00zM657.50 241.80h1.50v1.55h-1.50zM677.00 241.80h1.50v1.55h-1.50zM678.50 243.30h1.50v1.55h-1.50zM657.50 244.80h1.50v1.55h-1.50zM677.00 244.80h1.50v1.55h-1.50zM683.00 244.80h1.50v1.55h-1.50zM671.00 246.30h1.50v1.55h-1.50zM677.00 246.30h4.50v1.55h-4.50zM683.00 246.30h1.50v1.55h-1.50zM659.00 247.80h1.50v1.55h-1.50zM666.50 247.80h1.50v1.55h-1.50zM674.00 247.80h3.00v1.55h-3.00zM678.50 247.80h4.50v1.55h-4.50zM660.50 249.30h1.50v1.55h-1.50zM677.00 249.30h1.50v1.55h-1.50zM680.00 249.30h3.00v1.55h-3.00zM663.50 250.80h1.50v1.55h-1.50zM671.00 250.80h1.50v1.55h-1.50zM662.00 252.30h1.50v1.55h-1.50zM668.00 252.30h1.50v1.55h-1.50zM672.50 252.30h1.50v1.55h-1.50zM662.00 253.80h1.50v1.55h-1.50zM668.00 253.80h1.50v1.55h-1.50zM672.50 253.80h1.50v1.55h-1.50zM665.00 255.30h1.50v1.55h-1.50z" fill="#ff1400" shape-rendering="crispEdges"/>
<path d="M184.2 72.3 L180.6 168.3 M153.5 166.7 L181.0 168.3 L250.0 170.7 L330.0 172.6 L400.0 173.5 L450.0 173.6 L510.0 172.6 L570.7 171.2 M153.5 199.4 L220.0 201.8 L287.3 204.5 L285.6 250.0 L284.3 331.0 M284.3 331.0 L290.5 331.8 L297.5 340.5 L304.5 345.0 L309.8 342.2 L315.0 344.0 L319.4 340.5 L323.8 347.5 L329.0 354.5 L337.8 355.4 L346.5 359.8 L358.8 359.8 L365.8 365.0 L372.8 361.5 L380.0 363.0 L386.0 361.0 L388.0 368.0 L394.0 374.0 L399.0 379.0 L404.0 377.0 L410.0 372.0 L415.0 377.0 L420.0 376.0 L423.0 380.0 L428.0 381.0 L430.0 378.0 L435.0 377.0 L437.0 383.0 L440.0 388.0 L443.0 383.0 L444.0 380.0 L447.0 379.0 L448.0 373.0 M471.0 378.0 L474.0 383.0 L479.0 385.0 L482.0 387.0 L484.0 390.0 L486.0 386.0 L492.0 382.0 L500.0 380.0 L508.0 379.0 L516.0 377.0 L523.5 374.5 L530.0 377.0 L536.0 377.5 L541.5 376.0 L543.8 371.5 L549.0 375.0 L555.0 378.2 L561.8 384.0 L567.0 385.5 L573.0 388.4 L579.0 389.5 L584.2 391.8 L590.0 396.2 L595.0 394.5 L600.0 395.5 L608.0 396.2 L610.0 431.0 L611.0 497.5 L614.0 502.0 L617.0 504.0 L621.0 509.0 L625.0 513.0 L626.0 520.0 L627.0 527.0 L632.6 531.0 L634.0 537.0 L636.0 542.5 L640.5 551.5 L642.0 556.0 L644.0 560.5 L644.5 567.0 L642.8 574.0 L641.0 581.0 L638.0 587.5 L635.0 592.0 L634.0 596.5 L636.0 600.0 L635.0 603.0 M569.0 72.3 L570.8 171.2 L573.0 203.0 L577.5 250.0 L583.0 272.5 L584.2 300.0 L584.2 391.5 M573.0 204.0 L685.2 199.4 M610.0 431.5 L685.2 430.0" stroke="#000" stroke-width="1" fill="none" stroke-linejoin="round"/>
<path d="M448.0 373.0 L451.0 375.0 L452.0 379.0 L456.0 380.0 L459.0 383.0 L462.0 380.0 L464.0 376.0 L468.0 375.0 L470.0 377.0 L471.0 373.0 L468.0 370.0 L466.0 367.0 L469.0 368.0 L472.0 365.0 L471.0 370.0 L471.0 378.0" stroke="#000" stroke-width="2.2" fill="none" stroke-linejoin="round"/>
<polygon points="422.3,287.6 423.6,291.4 427.6,291.5 424.4,293.9 425.6,297.7 422.3,295.4 419.0,297.7 420.2,293.9 417.0,291.5 421.0,291.4" fill="none" stroke="#000" stroke-width="0.9"/>
<polygon points="458.7,446.0 460.0,449.8 464.0,449.9 460.8,452.3 462.0,456.1 458.7,453.8 455.4,456.1 456.6,452.3 453.4,449.9 457.4,449.8" fill="none" stroke="#000" stroke-width="0.9"/>
<clipPath id="mc"><rect x="153.5" y="72.3" width="531.7" height="530.9"/></clipPath>
<path clip-path="url(#mc)" d="M171.0 78.5Q166.0 74.5 161.1 70.5M162.2 73.9L161.1 70.5L164.6 70.9M192.0 78.2Q189.2 74.4 186.0 71.0M186.4 73.6L186.0 71.0L188.6 71.6M213.2 78.0Q212.2 74.5 211.2 71.0M210.6 72.9L211.2 71.0L212.7 72.3M236.6 78.7Q235.3 74.5 233.8 70.3M233.2 72.7L233.8 70.3L235.7 71.8M260.8 78.5Q258.3 74.5 255.8 70.5M255.7 73.1L255.8 70.5L258.2 71.6M283.8 78.5Q281.3 74.5 278.9 70.5M278.8 73.1L278.9 70.5L281.2 71.6M307.4 79.0Q304.4 74.5 301.4 70.0M301.4 73.0L301.4 70.0L304.2 71.2M330.0 79.2Q327.5 74.5 324.9 69.9M324.7 72.8L324.9 69.9L327.5 71.2M352.5 77.5Q350.5 74.5 348.5 71.5M348.6 73.5L348.5 71.5L350.4 72.3M375.6 78.0Q373.6 74.5 371.6 71.0M371.5 73.3L371.6 71.0L373.6 72.0M399.9 79.1Q396.6 74.5 393.5 69.9M393.5 73.0L393.5 69.9L396.4 71.1M422.2 78.5Q419.7 74.5 417.2 70.5M417.2 73.1L417.2 70.5L419.6 71.6M445.3 77.5Q442.8 74.5 440.3 71.5M440.5 73.7L440.3 71.5L442.4 72.1M467.8 77.0Q465.8 74.5 463.8 72.0M464.0 74.0L463.8 72.0L465.7 72.6M491.4 76.5Q488.9 74.5 486.4 72.5M487.0 74.4L486.4 72.5L488.4 72.7M514.2 76.9Q512.0 74.5 509.7 72.2M510.1 74.1L509.7 72.2L511.7 72.6M537.0 76.5Q535.0 74.5 533.0 72.5M533.4 74.5L533.0 72.5L535.0 72.9M560.6 76.5Q558.1 74.5 555.6 72.5M556.2 74.4L555.6 72.5L557.6 72.7M585.1 75.0Q581.1 74.5 577.1 74.0M578.9 75.5L577.1 74.0L579.2 73.0M609.7 74.0Q604.2 74.5 598.7 75.0M601.4 76.4L598.7 75.0L601.1 73.1M631.7 75.0Q627.3 74.5 622.8 74.0M624.7 75.6L622.8 74.0L625.0 72.9M654.3 74.0Q650.3 74.5 646.3 75.0M648.3 76.0L646.3 75.0L648.0 73.5M675.5 74.2Q673.4 74.5 671.3 74.8M673.1 75.6L671.3 74.8L672.8 73.5M157.4 98.6Q154.8 93.9 151.2 89.9M151.6 92.9L151.2 89.9L154.1 90.7M181.1 97.6Q177.6 94.1 174.1 90.6M174.7 93.3L174.1 90.6L176.8 91.2M204.1 97.6Q200.6 94.1 197.1 90.6M197.7 93.3L197.1 90.6L199.9 91.2M225.2 97.6Q223.7 94.1 222.2 90.6M221.8 92.7L222.2 90.6L224.0 91.8M247.3 99.6Q246.8 94.1 246.3 88.6M244.8 91.3L246.3 88.6L248.2 91.0M272.3 99.1Q269.8 94.1 267.3 89.1M267.0 92.2L267.3 89.1L270.0 90.7M295.4 100.6Q292.9 94.1 290.4 87.6M289.6 91.4L290.4 87.6L293.5 89.9M318.9 100.1Q315.9 94.1 312.9 88.1M312.5 91.8L312.9 88.1L316.2 90.0M341.5 99.6Q339.0 94.1 336.5 88.6M336.0 91.9L336.5 88.6L339.4 90.4M365.6 98.6Q362.1 94.1 358.6 89.6M358.8 92.8L358.6 89.6L361.6 90.6M389.1 99.6Q385.1 94.1 381.1 88.6M381.3 92.4L381.1 88.6L384.7 90.0M412.7 99.6Q408.2 94.1 403.7 88.6M404.1 92.6L403.7 88.6L407.5 89.8M435.7 100.1Q431.2 94.1 426.7 88.1M427.0 92.3L426.7 88.1L430.7 89.5M458.3 98.6Q454.3 94.1 450.3 89.6M450.8 92.9L450.3 89.6L453.6 90.5M479.9 98.1Q477.4 94.1 474.9 90.1M474.8 92.7L474.9 90.1L477.3 91.2M502.4 96.6Q500.4 94.1 498.4 91.6M498.6 93.6L498.4 91.6L500.3 92.2M526.0 97.1Q523.5 94.1 521.0 91.1M521.2 93.3L521.0 91.1L523.1 91.7M549.5 96.1Q546.5 94.1 543.5 92.1M544.3 94.0L543.5 92.1L545.6 92.1M571.6 95.1Q569.6 94.1 567.6 93.1M568.6 94.8L567.6 93.1L569.6 92.9M594.7 95.6Q592.7 94.1 590.7 92.6M591.3 94.5L590.7 92.6L592.7 92.7M618.7 96.6Q615.7 94.1 612.7 91.6M613.4 93.7L612.7 91.6L614.9 91.9M640.3 95.6Q638.8 94.1 637.3 92.6M637.7 94.6L637.3 92.6L639.2 93.0M662.3 94.1Q661.8 94.1 661.3 94.1M663.0 95.2L661.3 94.1L663.0 93.0M686.6 92.9Q684.9 94.1 683.2 95.3M685.2 95.3L683.2 95.3L683.9 93.5M166.1 119.2Q166.1 113.7 166.0 108.2M164.4 110.8L166.0 108.2L167.7 110.8M191.6 118.7Q189.1 113.7 186.6 108.7M186.3 111.8L186.6 108.7L189.3 110.3M214.2 118.2Q212.2 113.7 210.2 109.2M209.7 111.9L210.2 109.2L212.5 110.7M236.7 119.2Q235.2 113.7 233.7 108.2M232.8 111.2L233.7 108.2L236.1 110.3M259.8 119.7Q258.3 113.7 256.8 107.7M255.7 111.0L256.8 107.7L259.3 110.1M283.8 120.2Q281.4 113.7 278.8 107.2M278.0 111.0L278.8 107.2L282.0 109.5M307.4 122.2Q304.4 113.7 301.4 105.2M300.2 110.1L301.4 105.2L305.4 108.3M331.0 121.2Q327.5 113.7 324.0 106.2M323.3 110.8L324.0 106.2L327.9 108.7M353.0 119.2Q350.5 113.7 348.0 108.2M347.5 111.5L348.0 108.2L350.9 110.0M376.6 119.2Q373.6 113.7 370.6 108.2M370.3 111.7L370.6 108.2L373.7 109.9M400.2 120.2Q396.7 113.7 393.1 107.2M392.8 111.3L393.1 107.2L396.8 109.2M423.7 119.2Q419.7 113.7 415.7 108.2M415.9 112.0L415.7 108.2L419.3 109.6M446.8 118.2Q442.8 113.7 438.8 109.2M439.3 112.5L438.8 109.2L442.0 110.1M469.3 118.2Q465.8 113.7 462.3 109.2M462.6 112.4L462.3 109.2L465.3 110.2M490.4 116.2Q488.9 113.7 487.4 111.2M487.3 113.2L487.4 111.2L489.2 112.1M513.8 116.1Q511.9 113.7 510.1 111.3M510.3 113.3L510.1 111.3L512.0 112.0M536.5 115.7Q535.0 113.7 533.5 111.7M533.6 113.7L533.5 111.7L535.4 112.4M560.1 114.7Q558.1 113.7 556.1 112.7M557.1 114.4L556.1 112.7L558.1 112.5M582.6 114.2Q581.1 113.7 579.6 113.2M580.9 114.8L579.6 113.2L581.6 112.7M607.2 116.2Q604.2 113.7 601.2 111.2M601.8 113.3L601.2 111.2L603.4 111.5M628.8 116.7Q627.3 113.7 625.7 110.7M625.5 112.7L625.7 110.7L627.5 111.7M651.3 114.2Q650.3 113.7 649.3 113.2M650.3 114.9L649.3 113.2L651.3 113.0M676.4 110.7Q673.4 113.7 670.4 116.7M672.7 116.2L670.4 116.7L670.9 114.4M152.7 138.9Q154.9 133.4 155.5 127.5M153.5 130.1L155.5 127.5L157.0 130.4M177.6 138.8Q177.6 133.3 177.6 127.8M175.9 130.4L177.6 127.8L179.3 130.4M202.1 138.3Q200.6 133.3 199.1 128.3M198.3 131.1L199.1 128.3L201.4 130.2M224.2 139.3Q223.7 133.3 223.2 127.3M221.6 130.3L223.2 127.3L225.3 130.0M246.8 140.3Q246.8 133.3 246.7 126.3M244.6 129.6L246.7 126.3L248.9 129.6M271.8 138.8Q269.8 133.3 267.8 127.8M267.1 131.0L267.8 127.8L270.4 129.8M295.4 139.3Q292.9 133.3 290.4 127.3M289.7 130.9L290.4 127.3L293.4 129.4M318.9 140.8Q315.9 133.3 312.9 125.8M312.1 130.2L312.9 125.8L316.6 128.4M342.0 139.3Q339.0 133.3 336.0 127.3M335.6 131.0L336.0 127.3L339.2 129.2M364.6 138.3Q362.1 133.3 359.6 128.3M359.2 131.4L359.6 128.3L362.3 129.9M387.6 138.8Q385.1 133.3 382.6 127.8M382.1 131.1L382.6 127.8L385.5 129.6M412.2 138.8Q408.2 133.3 404.2 127.8M404.4 131.6L404.2 127.8L407.7 129.2M435.2 137.8Q431.2 133.3 427.2 128.8M427.7 132.1L427.2 128.8L430.5 129.7M459.3 138.3Q454.3 133.3 449.3 128.3M450.1 132.2L449.3 128.3L453.2 129.1M479.4 135.8Q477.4 133.3 475.4 130.8M475.6 132.8L475.4 130.8L477.3 131.4M502.4 135.3Q500.4 133.3 498.4 131.3M498.8 133.3L498.4 131.3L500.4 131.7M525.0 135.3Q523.5 133.3 522.0 131.3M522.1 133.3L522.0 131.3L523.9 132.0M547.5 134.8Q546.5 133.3 545.5 131.8M545.6 133.8L545.5 131.8L547.4 132.6M569.6 134.8Q569.6 133.3 569.6 131.8M568.5 133.5L569.6 131.8L570.7 133.5M594.7 135.8Q592.7 133.3 590.7 130.8M590.9 132.8L590.7 130.8L592.6 131.4M618.7 135.8Q615.7 133.3 612.7 130.8M613.4 132.9L612.7 130.8L614.9 131.1M640.3 135.3Q638.8 133.3 637.3 131.3M637.4 133.3L637.3 131.3L639.2 132.0M663.3 133.3Q661.8 133.3 660.3 133.3M662.0 134.4L660.3 133.3L662.0 132.2M687.0 131.9Q684.9 133.3 682.8 134.7M684.8 134.7L682.8 134.7L683.6 132.8M162.0 159.4Q166.1 152.9 170.0 146.4M166.2 148.2L170.0 146.4L170.2 150.7M188.6 157.4Q189.1 152.9 189.6 148.4M188.0 150.4L189.6 148.4L190.7 150.7M212.2 158.9Q212.2 152.9 212.2 146.9M210.3 149.7L212.2 146.9L214.0 149.7M235.2 158.9Q235.2 152.9 235.2 146.9M233.4 149.7L235.2 146.9L237.1 149.7M257.8 156.9Q258.3 152.9 258.8 148.9M257.3 150.6L258.8 148.9L259.8 150.9M285.3 156.9Q281.3 152.9 277.4 148.9M278.0 152.0L277.4 148.9L280.5 149.6M306.9 158.4Q304.4 152.9 301.9 147.4M301.4 150.7L301.9 147.4L304.8 149.2M329.5 158.9Q327.5 152.9 325.5 146.9M324.6 150.3L325.5 146.9L328.2 149.1M354.0 158.4Q350.5 152.9 347.0 147.4M347.0 151.0L347.0 147.4L350.4 148.9M377.6 158.9Q373.6 152.9 369.6 146.9M369.6 150.9L369.6 146.9L373.3 148.5M400.2 157.4Q396.6 152.9 393.2 148.4M393.4 151.6L393.2 148.4L396.2 149.4M423.7 156.9Q419.7 152.9 415.7 148.9M416.4 152.0L415.7 148.9L418.8 149.6M446.3 155.4Q442.8 152.9 439.3 150.4M440.2 152.6L439.3 150.4L441.7 150.5M469.8 155.9Q465.8 152.9 461.8 149.9M462.8 152.5L461.8 149.9L464.6 150.1M490.9 154.9Q488.9 152.9 486.9 150.9M487.3 152.9L486.9 150.9L488.8 151.3M513.0 154.9Q511.9 152.9 510.9 150.9M510.7 152.9L510.9 150.9L512.7 151.9M536.5 154.9Q535.0 152.9 533.5 150.9M533.6 152.9L533.5 150.9L535.4 151.6M559.1 155.4Q558.1 152.9 557.1 150.4M556.7 152.4L557.1 150.4L558.7 151.6M582.1 155.4Q581.1 152.9 580.1 150.4M579.7 152.4L580.1 150.4L581.8 151.6M606.7 155.4Q604.2 152.9 601.7 150.4M602.1 152.4L601.7 150.4L603.6 150.8M629.3 155.4Q627.2 152.9 625.2 150.4M625.4 152.4L625.2 150.4L627.1 151.0M652.3 154.4Q650.3 152.9 648.3 151.4M649.0 153.3L648.3 151.4L650.3 151.5M674.9 152.4Q673.4 152.9 671.9 153.4M673.8 153.9L671.9 153.4L673.1 151.8M151.0 175.5Q154.5 172.5 158.0 169.5M155.5 169.8L158.0 169.5L157.3 172.0M172.1 176.5Q177.6 172.5 183.1 168.5M179.3 168.7L183.1 168.5L181.7 172.0M199.1 177.0Q200.6 172.5 202.1 168.0M200.1 169.7L202.1 168.0L202.8 170.6M222.2 178.5Q223.7 172.5 225.2 166.5M222.7 168.9L225.2 166.5L226.3 169.8M244.8 176.5Q246.8 172.5 248.8 168.5M246.6 169.8L248.8 168.5L249.0 171.0M269.3 174.5Q269.8 172.5 270.3 170.5M268.9 171.9L270.3 170.5L271.0 172.4M293.4 175.0Q292.9 172.5 292.4 170.0M291.6 171.9L292.4 170.0L293.8 171.4M316.4 175.0Q315.9 172.5 315.4 170.0M314.7 171.9L315.4 170.0L316.8 171.4M341.0 175.0Q339.0 172.5 337.0 170.0M337.2 172.0L337.0 170.0L338.9 170.6M365.6 176.5Q362.1 172.5 358.6 168.5M359.0 171.4L358.6 168.5L361.4 169.3M388.1 176.5Q385.1 172.5 382.1 168.5M382.3 171.3L382.1 168.5L384.7 169.5M411.2 174.5Q408.2 172.5 405.2 170.5M406.0 172.4L405.2 170.5L407.2 170.5M434.7 174.5Q431.2 172.5 427.7 170.5M428.8 172.5L427.7 170.5L430.0 170.4M458.8 175.0Q454.3 172.5 449.8 170.0M451.2 172.5L449.8 170.0L452.7 169.8M479.9 174.0Q477.4 172.5 474.9 171.0M475.7 172.8L474.9 171.0L476.9 170.9M502.4 174.5Q500.4 172.5 498.4 170.5M498.8 172.5L498.4 170.5L500.4 170.9M525.0 174.5Q523.5 172.5 522.0 170.5M522.1 172.5L522.0 170.5L523.9 171.2M547.5 174.5Q546.5 172.5 545.5 170.5M545.3 172.5L545.5 170.5L547.3 171.5M570.1 174.5Q569.6 172.5 569.1 170.5M568.5 172.4L569.1 170.5L570.6 171.9M593.7 174.5Q592.7 172.5 591.7 170.5M591.4 172.5L591.7 170.5L593.4 171.5M617.7 173.5Q615.7 172.5 613.7 171.5M614.7 173.2L613.7 171.5L615.7 171.3M641.3 173.0Q638.8 172.5 636.3 172.0M637.7 173.4L636.3 172.0L638.1 171.3M663.3 171.0Q661.8 172.5 660.3 174.0M662.3 173.6L660.3 174.0L660.8 172.0M686.1 171.3Q684.9 172.5 683.7 173.7M685.6 173.3L683.7 173.7L684.1 171.7M159.1 195.6Q166.1 192.1 173.0 188.6M168.7 188.1L173.0 188.6L170.8 192.4M185.6 194.6Q189.1 192.1 192.6 189.6M190.2 189.7L192.6 189.6L191.7 191.8M210.2 196.6Q212.2 192.1 214.2 187.6M211.9 189.1L214.2 187.6L214.6 190.3M233.2 196.6Q235.2 192.1 237.2 187.6M234.9 189.1L237.2 187.6L237.7 190.3M255.8 195.6Q258.3 192.1 260.8 188.6M258.5 189.5L260.8 188.6L260.7 191.0M281.9 194.1Q281.3 192.1 280.8 190.1M280.2 192.0L280.8 190.1L282.3 191.5M305.9 196.1Q304.4 192.1 302.9 188.1M302.4 190.4L302.9 188.1L304.8 189.5M328.8 196.0Q327.6 192.1 325.9 188.3M325.6 190.6L325.9 188.3L327.8 189.6M352.5 197.1Q350.5 192.1 348.5 187.1M347.9 190.1L348.5 187.1L351.0 188.8M375.6 196.1Q373.6 192.1 371.6 188.1M371.3 190.6L371.6 188.1L373.7 189.4M399.7 194.6Q396.6 192.1 393.7 189.6M394.3 191.7L393.7 189.6L395.8 189.9M424.7 195.1Q419.7 192.1 414.7 189.1M416.1 192.0L414.7 189.1L418.0 189.0M447.8 194.6Q442.8 192.1 437.8 189.6M439.4 192.3L437.8 189.6L440.9 189.2M469.8 194.1Q465.8 192.1 461.8 190.1M463.1 192.3L461.8 190.1L464.3 189.8M491.4 194.1Q488.9 192.1 486.4 190.1M487.0 192.0L486.4 190.1L488.4 190.3M514.0 194.6Q512.0 192.1 509.9 189.6M510.1 191.6L509.9 189.6L511.8 190.2M537.5 194.6Q535.0 192.1 532.5 189.6M532.9 191.6L532.5 189.6L534.5 190.0M560.1 194.6Q558.1 192.1 556.1 189.6M556.3 191.6L556.1 189.6L558.0 190.2M582.6 194.1Q581.1 192.1 579.6 190.1M579.8 192.1L579.6 190.1L581.5 190.8M605.7 193.6Q604.2 192.1 602.7 190.6M603.1 192.6L602.7 190.6L604.6 191.0M628.8 191.1Q627.2 192.1 625.7 193.1M627.7 193.1L625.7 193.1L626.5 191.3M651.8 191.1Q650.3 192.1 648.8 193.1M650.8 193.1L648.8 193.1L649.6 191.3M673.9 190.1Q673.4 192.1 672.9 194.1M674.3 192.7L672.9 194.1L672.2 192.2M150.5 213.7Q154.5 211.7 158.5 209.7M156.0 209.4L158.5 209.7L157.3 211.9M173.1 212.7Q177.6 211.7 182.1 210.7M179.7 209.8L182.1 210.7L180.3 212.5M199.1 213.2Q200.6 211.7 202.1 210.2M200.2 210.6L202.1 210.2L201.7 212.2M221.7 214.7Q223.7 211.7 225.7 208.7M223.8 209.5L225.7 208.7L225.7 210.7M244.8 215.2Q246.8 211.7 248.8 208.2M246.8 209.2L248.8 208.2L248.9 210.5M267.8 213.7Q269.8 211.7 271.8 209.7M269.9 210.1L271.8 209.7L271.4 211.7M294.4 215.7Q292.9 211.7 291.4 207.7M290.9 210.0L291.4 207.7L293.3 209.1M316.9 216.7Q315.9 211.7 314.9 206.7M313.9 209.4L314.9 206.7L316.9 208.7M339.5 216.2Q339.0 211.7 338.5 207.2M337.4 209.5L338.5 207.2L340.1 209.2M364.6 216.7Q362.1 211.7 359.6 206.7M359.2 209.8L359.6 206.7L362.3 208.3M387.6 216.7Q385.1 211.7 382.6 206.7M382.3 209.8L382.6 206.7L385.3 208.3M411.7 215.7Q408.2 211.7 404.7 207.7M405.1 210.6L404.7 207.7L407.5 208.5M435.2 214.2Q431.2 211.7 427.2 209.2M428.4 211.6L427.2 209.2L429.9 209.2M458.8 214.7Q454.3 211.7 449.8 208.7M451.0 211.5L449.8 208.7L452.8 208.7M481.4 214.2Q477.4 211.7 473.4 209.2M474.5 211.6L473.4 209.2L476.0 209.2M503.4 213.2Q500.4 211.7 497.4 210.2M498.4 211.9L497.4 210.2L499.4 210.0M526.0 214.2Q523.5 211.7 521.0 209.2M521.4 211.2L521.0 209.2L522.9 209.6M549.5 213.2Q546.5 211.7 543.5 210.2M544.6 211.9L543.5 210.2L545.5 210.0M572.1 213.2Q569.6 211.7 567.1 210.2M568.0 212.0L567.1 210.2L569.1 210.1M594.7 212.7Q592.7 211.7 590.7 210.7M591.7 212.4L590.7 210.7L592.6 210.5M617.2 212.2Q615.7 211.7 614.2 211.2M615.5 212.8L614.2 211.2L616.2 210.7M639.3 211.7Q638.8 211.7 638.3 211.7M640.0 212.8L638.3 211.7L640.0 210.6M661.8 209.7Q661.8 211.7 661.8 213.7M662.9 212.0L661.8 213.7L660.8 212.0M685.3 209.8Q684.9 211.7 684.5 213.6M685.9 212.2L684.5 213.6L683.8 211.8M163.2 232.0Q166.0 231.3 168.9 230.6M167.0 229.9L168.9 230.6L167.6 232.0M189.1 230.3Q189.1 231.3 189.1 232.3M190.2 230.6L189.1 232.3L188.0 230.6M213.2 231.3Q212.2 231.3 211.2 231.3M212.8 232.4L211.2 231.3L212.8 230.2M236.2 230.8Q235.2 231.3 234.2 231.8M236.2 232.0L234.2 231.8L235.2 230.1M258.8 234.8Q258.3 231.3 257.8 227.8M256.9 229.6L257.8 227.8L259.1 229.3M280.4 234.3Q281.4 231.3 282.3 228.3M280.8 229.5L282.3 228.3L282.9 230.2M307.9 237.8Q304.4 231.3 300.9 224.8M300.6 228.9L300.9 224.8L304.5 226.8M328.0 236.8Q327.5 231.3 327.0 225.8M325.5 228.5L327.0 225.8L328.9 228.2M352.5 236.8Q350.5 231.3 348.5 225.8M347.8 229.0L348.5 225.8L351.1 227.8M376.6 235.8Q373.6 231.3 370.6 226.8M370.6 229.8L370.6 226.8L373.4 228.0M399.7 234.3Q396.6 231.3 393.7 228.3M394.1 230.6L393.7 228.3L396.0 228.8M423.7 234.3Q419.7 231.3 415.7 228.3M416.7 230.9L415.7 228.3L418.5 228.5M445.8 234.3Q442.8 231.3 439.8 228.3M440.3 230.6L439.8 228.3L442.1 228.8M469.3 233.3Q465.8 231.3 462.3 229.3M463.4 231.3L462.3 229.3L464.6 229.2M491.4 232.8Q488.9 231.3 486.4 229.8M487.3 231.6L486.4 229.8L488.4 229.7M514.3 232.9Q511.9 231.3 509.6 229.7M510.4 231.5L509.6 229.7L511.6 229.7M537.0 232.3Q535.0 231.3 533.0 230.3M534.0 232.0L533.0 230.3L535.0 230.1M561.6 232.3Q558.1 231.3 554.6 230.3M555.9 231.8L554.6 230.3L556.5 229.7M583.1 231.8Q581.1 231.3 579.1 230.8M580.5 232.3L579.1 230.8L581.0 230.2M608.2 231.3Q604.2 231.3 600.2 231.3M602.1 232.5L600.2 231.3L602.1 230.1M628.3 231.3Q627.2 231.3 626.2 231.3M627.9 232.4L626.2 231.3L627.9 230.2M650.8 230.6Q650.3 231.3 649.8 232.0M651.7 231.3L649.8 232.0L649.9 230.0M673.6 229.4Q673.4 231.3 673.2 233.2M674.4 231.7L673.2 233.2L672.3 231.4M154.0 250.4Q154.5 250.9 155.0 251.4M154.6 249.4L155.0 251.4L153.1 250.9M178.2 249.6Q177.6 250.9 176.9 252.2M178.7 251.2L176.9 252.2L176.7 250.2M202.2 249.7Q200.6 250.9 199.1 252.1M201.1 252.0L199.1 252.1L199.7 250.2M226.0 249.9Q223.7 250.9 221.4 251.9M223.4 252.2L221.4 251.9L222.5 250.2M248.8 251.9Q246.8 250.9 244.8 249.9M245.8 251.6L244.8 249.9L246.7 249.7M270.6 253.6Q269.8 250.9 269.0 248.2M268.4 250.1L269.0 248.2L270.5 249.5M294.6 254.6Q292.8 251.0 291.4 247.0M290.8 249.3L291.4 247.0L293.2 248.5M317.9 255.9Q315.8 250.9 314.2 245.8M313.4 248.7L314.2 245.8L316.5 247.7M341.9 256.1Q338.6 251.1 336.9 245.3M335.9 248.5L336.9 245.3L339.4 247.5M365.0 255.7Q362.0 251.0 359.3 246.0M359.1 249.1L359.3 246.0L362.1 247.5M386.6 253.9Q385.1 250.9 383.6 247.9M383.4 249.9L383.6 247.9L385.3 248.9M411.2 254.2Q408.2 250.9 405.1 247.6M405.6 250.1L405.1 247.6L407.5 248.2M433.2 252.9Q431.2 250.9 429.2 248.9M429.7 250.9L429.2 248.9L431.2 249.3M457.2 253.8Q454.3 250.9 451.3 248.1M451.9 250.3L451.3 248.1L453.6 248.5M480.2 253.1Q477.4 250.9 474.5 248.7M475.2 250.6L474.5 248.7L476.5 248.9M502.4 252.4Q500.4 250.9 498.4 249.4M499.1 251.3L498.4 249.4L500.4 249.5M526.0 251.6Q523.5 250.9 521.0 250.2M522.3 251.7L521.0 250.2L522.9 249.6M549.4 251.3Q546.5 250.9 543.6 250.5M545.1 251.8L543.6 250.5L545.5 249.6M571.9 251.3Q569.6 250.9 567.3 250.5M568.8 251.9L567.3 250.5L569.1 249.7M594.9 250.9Q592.7 250.9 590.4 250.9M592.1 252.0L590.4 250.9L592.1 249.8M617.7 250.5Q615.7 250.9 613.8 251.3M615.7 252.0L613.8 251.3L615.2 249.9M640.1 249.7Q638.8 250.9 637.5 252.1M639.5 251.8L637.5 252.1L637.9 250.2M663.2 248.3Q661.8 250.9 660.5 253.5M662.2 252.5L660.5 253.5L660.3 251.5M686.2 248.2Q684.9 250.9 683.5 253.6M685.3 252.6L683.5 253.6L683.3 251.6M165.6 270.0Q166.0 270.5 166.5 271.0M166.1 269.0L166.5 271.0L164.6 270.6M191.6 268.0Q189.1 270.5 186.6 273.0M188.6 272.6L186.6 273.0L187.0 271.0M215.2 268.5Q212.2 270.5 209.2 272.5M211.2 272.5L209.2 272.5L210.0 270.6M239.2 269.0Q235.2 270.5 231.2 272.0M233.6 272.5L231.2 272.0L232.7 270.1M261.3 272.0Q258.3 270.5 255.3 269.0M256.3 270.7L255.3 269.0L257.3 268.8M282.9 273.0Q281.3 270.5 279.8 268.0M279.8 270.0L279.8 268.0L281.6 268.9M306.4 273.0Q304.4 270.5 302.4 268.0M302.6 270.0L302.4 268.0L304.3 268.6M331.3 274.0Q327.4 270.5 323.7 267.0M324.4 269.8L323.7 267.0L326.5 267.5M356.0 276.0Q350.5 270.5 345.0 265.0M345.9 269.3L345.0 265.0L349.3 265.9M377.6 277.0Q373.6 270.5 369.6 264.0M369.5 268.3L369.6 264.0L373.4 265.8M400.7 276.0Q396.6 270.5 392.7 265.0M392.9 268.8L392.7 265.0L396.2 266.4M423.2 275.0Q419.7 270.5 416.2 266.0M416.5 269.2L416.2 266.0L419.2 267.0M445.8 275.0Q442.8 270.5 439.8 266.0M439.8 269.0L439.8 266.0L442.6 267.2M469.3 274.5Q465.8 270.5 462.3 266.5M462.8 269.4L462.3 266.5L465.2 267.3M492.4 272.5Q488.9 270.5 485.4 268.5M486.4 270.5L485.4 268.5L487.6 268.4M515.0 271.1Q511.9 270.7 509.1 269.5M510.2 271.2L509.1 269.5L511.0 269.2M538.5 270.0Q535.0 270.5 531.5 271.0M533.3 271.8L531.5 271.0L533.0 269.7M560.6 270.5Q558.1 270.5 555.6 270.5M557.2 271.6L555.6 270.5L557.2 269.4M582.6 270.5Q581.1 270.5 579.6 270.5M581.3 271.6L579.6 270.5L581.3 269.4M605.2 270.0Q604.2 270.5 603.2 271.0M605.2 271.2L603.2 271.0L604.2 269.3M628.7 269.0Q627.2 270.5 625.8 272.0M627.7 271.6L625.8 272.0L626.2 270.0M651.8 268.0Q650.3 270.5 648.8 273.0M650.6 272.1L648.8 273.0L648.7 271.0M674.9 267.5Q673.4 270.5 671.9 273.5M673.6 272.5L671.9 273.5L671.6 271.5M178.6 290.1Q177.6 290.1 176.6 290.1M178.3 291.2L176.6 290.1L178.3 289.0M202.1 290.1Q200.6 290.1 199.1 290.1M200.8 291.2L199.1 290.1L200.8 289.0M227.2 289.6Q223.7 290.1 220.2 290.6M222.0 291.4L220.2 290.6L221.7 289.3M251.8 292.1Q246.8 290.1 241.8 288.1M243.5 290.6L241.8 288.1L244.7 287.5M273.8 292.1Q269.8 290.1 265.8 288.1M267.1 290.3L265.8 288.1L268.3 287.8M295.4 292.1Q292.9 290.1 290.4 288.1M291.0 290.0L290.4 288.1L292.4 288.3M317.9 291.6Q315.9 290.1 313.9 288.6M314.6 290.5L313.9 288.6L315.9 288.7M343.5 293.6Q339.0 290.1 334.5 286.6M335.5 289.6L334.5 286.6L337.7 286.9M367.1 294.6Q362.1 290.1 357.1 285.6M358.0 289.2L357.1 285.6L360.8 286.2M389.1 295.6Q385.1 290.1 381.1 284.6M381.3 288.4L381.1 284.6L384.7 286.0M413.7 295.6Q408.2 290.1 402.7 284.6M403.6 288.9L402.7 284.6L406.9 285.5M434.7 293.6Q431.2 290.1 427.7 286.6M428.3 289.3L427.7 286.6L430.5 287.2M458.3 294.6Q454.3 290.1 450.3 285.6M450.8 288.9L450.3 285.6L453.6 286.5M480.9 293.1Q477.4 290.1 473.9 287.1M474.6 289.6L473.9 287.1L476.4 287.4M503.9 291.6Q500.4 290.1 496.9 288.6M498.1 290.4L496.9 288.6L499.0 288.2M526.5 290.1Q523.5 290.1 520.5 290.1M522.2 291.2L520.5 290.1L522.2 289.0M548.5 290.1Q546.5 290.1 544.5 290.1M546.2 291.2L544.5 290.1L546.2 289.0M571.1 290.1Q569.6 290.1 568.1 290.1M569.8 291.2L568.1 290.1L569.8 289.0M593.2 290.1Q592.7 290.1 592.2 290.1M593.8 291.2L592.2 290.1L593.8 289.0M616.2 290.1Q615.7 290.1 615.2 290.1M616.9 291.2L615.2 290.1L616.9 289.0M639.3 290.1Q638.8 290.1 638.3 290.1M640.0 291.2L638.3 290.1L640.0 289.0M662.3 290.1Q661.8 290.1 661.3 290.1M663.0 291.2L661.3 290.1L663.0 289.0M685.8 288.1Q684.9 290.1 684.0 292.1M685.7 291.0L684.0 292.1L683.7 290.1M190.1 310.7Q189.1 309.7 188.1 308.7M188.5 310.7L188.1 308.7L190.1 309.1M214.2 311.2Q212.2 309.7 210.2 308.2M210.9 310.1L210.2 308.2L212.2 308.3M238.2 311.7Q235.2 309.7 232.2 307.7M233.0 309.6L232.2 307.7L234.2 307.7M264.3 312.2Q258.3 309.7 252.3 307.2M254.3 310.2L252.3 307.2L255.9 306.5M284.4 311.2Q281.3 309.7 278.3 308.2M279.4 309.9L278.3 308.2L280.3 308.0M306.9 311.2Q304.4 309.7 301.9 308.2M302.8 310.0L301.9 308.2L303.9 308.1M331.4 312.9Q327.5 309.7 323.5 306.5M324.4 309.2L323.5 306.5L326.3 306.8M355.0 314.2Q350.5 309.7 346.0 305.2M346.8 308.7L346.0 305.2L349.5 305.9M378.6 315.2Q373.6 309.7 368.6 304.2M369.3 308.3L368.6 304.2L372.6 305.3M400.7 313.7Q396.6 309.7 392.7 305.7M393.3 308.8L392.7 305.7L395.7 306.4M424.7 313.7Q419.7 309.7 414.7 305.7M415.8 309.1L414.7 305.7L418.3 306.1M447.8 313.7Q442.8 309.7 437.8 305.7M438.9 309.1L437.8 305.7L441.3 306.1M469.8 313.7Q465.8 309.7 461.8 305.7M462.5 308.8L461.8 305.7L464.9 306.4M492.9 311.7Q488.9 309.7 484.9 307.7M486.2 309.9L484.9 307.7L487.4 307.4M515.6 310.0Q511.9 310.0 508.4 308.8M509.7 310.4L508.4 308.8L510.4 308.3M538.0 309.2Q535.0 309.7 532.0 310.2M533.8 311.0L532.0 310.2L533.5 308.8M560.1 309.7Q558.1 309.7 556.1 309.7M557.7 310.8L556.1 309.7L557.7 308.6M582.1 309.7Q581.1 309.7 580.1 309.7M581.8 310.8L580.1 309.7L581.8 308.6M605.2 309.2Q604.2 309.7 603.2 310.2M605.2 310.4L603.2 310.2L604.2 308.5M628.8 308.2Q627.2 309.7 625.8 311.2M627.7 310.8L625.8 311.2L626.2 309.2M651.3 308.2Q650.3 309.7 649.3 311.2M651.1 310.4L649.3 311.2L649.3 309.2M673.9 306.2Q673.4 309.7 672.9 313.2M674.2 311.7L672.9 313.2L672.0 311.4M154.1 331.1Q154.5 329.3 155.0 327.5M153.5 328.9L155.0 327.5L155.6 329.4M175.6 330.8Q177.6 329.3 179.6 327.8M177.6 327.9L179.6 327.8L178.9 329.7M200.6 330.3Q200.6 329.3 200.6 328.3M199.6 330.0L200.6 328.3L201.7 330.0M224.2 331.8Q223.7 329.3 223.2 326.8M222.5 328.7L223.2 326.8L224.6 328.2M251.3 332.3Q246.8 329.3 242.3 326.3M243.5 329.1L242.3 326.3L245.3 326.3M274.3 331.8Q269.8 329.3 265.3 326.8M266.7 329.3L265.3 326.8L268.2 326.6M298.4 331.3Q292.9 329.3 287.4 327.3M289.4 329.9L287.4 327.3L290.6 326.6M319.9 331.7Q316.0 329.2 311.9 327.1M313.1 329.3L311.9 327.1L314.5 326.8M343.5 332.3Q339.0 329.3 334.5 326.3M335.7 329.1L334.5 326.3L337.5 326.3M366.6 332.8Q362.1 329.3 357.6 325.8M358.6 328.8L357.6 325.8L360.7 326.1M390.1 332.8Q385.1 329.3 380.1 325.8M381.4 329.0L380.1 325.8L383.5 325.9M413.2 333.3Q408.2 329.3 403.2 325.3M404.3 328.7L403.2 325.3L406.7 325.7M436.2 333.8Q431.2 329.3 426.2 324.8M427.2 328.4L426.2 324.8L430.0 325.4M459.3 333.3Q454.3 329.3 449.3 325.3M450.4 328.7L449.3 325.3L452.9 325.7M480.9 332.3Q477.4 329.3 473.9 326.3M474.6 328.8L473.9 326.3L476.4 326.6M504.4 330.8Q500.4 329.3 496.4 327.8M497.8 329.7L496.4 327.8L498.8 327.3M527.5 328.8Q523.5 329.3 519.5 329.8M521.5 330.8L519.5 329.8L521.2 328.3M549.5 328.8Q546.5 329.3 543.5 329.8M545.4 330.6L543.5 329.8L545.0 328.4M572.1 328.3Q569.6 329.3 567.1 330.3M569.1 330.7L567.1 330.3L568.3 328.7M594.7 327.3Q592.7 329.3 590.7 331.3M592.6 330.9L590.7 331.3L591.1 329.3M616.7 328.3Q615.7 329.3 614.7 330.3M616.7 329.9L614.7 330.3L615.1 328.3M640.3 326.8Q638.8 329.3 637.3 331.8M639.1 330.9L637.3 331.8L637.2 329.8M663.8 325.3Q661.8 329.3 659.8 333.3M662.0 332.0L659.8 333.3L659.6 330.8M686.4 325.7Q685.0 329.3 683.2 332.9M685.1 331.8L683.2 332.9L683.0 330.7M166.0 352.9Q166.0 348.9 166.1 344.9M164.8 346.8L166.1 344.9L167.3 346.8M189.1 349.9Q189.1 348.9 189.1 347.9M188.0 349.6L189.1 347.9L190.2 349.6M210.7 351.4Q212.2 348.9 213.7 346.4M211.9 347.3L213.7 346.4L213.7 348.4M236.2 353.4Q235.2 348.9 234.2 344.4M233.3 346.8L234.2 344.4L236.1 346.2M262.8 352.4Q258.3 348.9 253.8 345.4M254.8 348.4L253.8 345.4L257.0 345.7M286.4 352.4Q281.3 348.9 276.3 345.4M277.6 348.6L276.3 345.4L279.8 345.5M309.3 351.7Q304.5 348.8 299.5 346.2M301.0 349.0L299.5 346.2L302.6 345.9M332.0 352.0Q327.5 348.9 322.9 345.9M324.1 348.7L322.9 345.9L325.9 345.9M355.5 352.3Q350.5 348.9 345.6 345.5M346.9 348.6L345.6 345.5L349.0 345.6M379.1 352.4Q373.6 348.9 368.1 345.4M369.6 348.7L368.1 345.4L371.7 345.4M402.1 352.4Q396.7 348.9 391.2 345.4M392.7 348.7L391.2 345.4L394.8 345.4M424.7 353.4Q419.7 348.9 414.7 344.4M415.7 348.0L414.7 344.4L418.4 345.0M448.3 352.4Q442.8 348.9 437.3 345.4M438.8 348.7L437.3 345.4L440.9 345.4M471.3 351.4Q465.8 348.9 460.3 346.4M462.2 349.3L460.3 346.4L463.7 345.9M492.4 350.4Q488.9 348.9 485.4 347.4M486.6 349.2L485.4 347.4L487.5 347.0M515.8 348.6Q512.0 349.2 508.1 348.6M509.7 350.0L508.1 348.6L510.1 347.7M538.5 347.9Q535.0 348.9 531.5 349.9M533.5 350.5L531.5 349.9L532.8 348.4M560.6 347.4Q558.1 348.9 555.6 350.4M557.6 350.5L555.6 350.4L556.4 348.6M583.1 345.9Q581.1 348.9 579.1 351.9M581.0 351.1L579.1 351.9L579.2 349.9M606.7 346.4Q604.2 348.9 601.7 351.4M603.6 351.0L601.7 351.4L602.1 349.4M629.3 345.9Q627.2 348.9 625.3 351.9M627.1 351.1L625.3 351.9L625.3 349.9M651.8 346.9Q650.3 348.9 648.8 350.9M650.7 350.2L648.8 350.9L648.9 348.9M675.9 345.4Q673.4 348.9 670.9 352.4M673.1 351.5L670.9 352.4L671.0 350.0M156.7 373.0Q154.2 368.6 152.9 363.7M152.1 366.4L152.9 363.7L155.0 365.6M178.1 373.5Q177.6 368.5 177.1 363.5M175.8 366.0L177.1 363.5L178.8 365.7M204.1 373.5Q200.6 368.5 197.1 363.5M197.3 366.9L197.1 363.5L200.3 364.8M225.8 381.0Q223.6 368.5 221.7 356.0M219.4 361.1L221.7 356.0L225.4 360.2M245.8 378.0Q246.8 368.5 247.7 359.0M244.4 363.2L247.7 359.0L250.2 363.7M274.3 372.5Q269.8 368.5 265.3 364.5M266.2 367.7L265.3 364.5L268.7 365.0M294.7 372.5Q293.2 368.3 290.5 364.9M290.7 367.3L290.5 364.9L292.8 365.7M317.0 371.7Q316.0 368.5 314.8 365.3M314.4 367.3L314.8 365.3L316.4 366.5M343.4 371.8Q339.0 368.5 334.7 365.1M335.7 368.1L334.7 365.1L337.7 365.4M367.1 372.0Q362.1 368.5 357.1 365.0M358.3 368.2L357.1 365.0L360.5 365.1M390.1 372.0Q385.1 368.5 380.1 365.0M381.4 368.2L380.1 365.0L383.5 365.1M413.7 372.5Q408.2 368.5 402.7 364.5M404.0 368.1L402.7 364.5L406.5 364.7M435.7 372.0Q431.2 368.5 426.7 365.0M427.8 368.0L426.7 365.0L429.9 365.3M459.3 371.0Q454.3 368.5 449.3 366.0M450.9 368.7L449.3 366.0L452.4 365.6M481.9 370.0Q477.4 368.5 472.9 367.0M474.5 369.1L472.9 367.0L475.4 366.3M504.9 369.5Q500.4 368.5 495.9 367.5M497.7 369.3L495.9 367.5L498.3 366.6M527.0 368.0Q523.5 368.5 520.0 369.0M521.8 369.8L520.0 369.0L521.5 367.7M549.5 367.5Q546.5 368.5 543.5 369.5M545.5 370.0L543.5 369.5L544.8 367.9M571.1 367.0Q569.6 368.5 568.1 370.0M570.1 369.6L568.1 370.0L568.5 368.0M595.2 366.5Q592.7 368.5 590.2 370.5M592.2 370.3L590.2 370.5L590.8 368.6M617.7 366.0Q615.7 368.5 613.7 371.0M615.6 370.4L613.7 371.0L613.9 369.0M640.8 366.0Q638.8 368.5 636.8 371.0M638.7 370.4L636.8 371.0L637.0 369.0M665.3 364.5Q661.8 368.5 658.3 372.5M661.2 371.7L658.3 372.5L658.8 369.6M687.8 364.6Q684.9 368.5 682.0 372.4M684.5 371.5L682.0 372.4L682.2 369.7M171.6 393.6Q166.0 388.1 160.6 382.6M161.5 386.9L160.6 382.6L164.8 383.5M193.7 396.6Q189.1 388.1 184.6 379.6M184.1 385.0L184.6 379.6L189.3 382.2M220.2 398.1Q212.1 388.1 204.2 378.1M204.7 383.6L204.2 378.1L209.5 379.9M237.8 400.6Q235.2 388.1 232.8 375.6M230.7 380.8L232.8 375.6L236.7 379.6M255.3 400.1Q258.4 388.1 261.1 376.1M257.1 380.0L261.1 376.1L263.0 381.3M279.3 393.1Q281.4 388.1 283.3 383.1M280.9 384.8L283.3 383.1L283.9 386.1M305.4 391.1Q304.4 388.1 303.4 385.1M302.9 387.0L303.4 385.1L305.0 386.3M329.9 391.7Q327.4 388.1 325.1 384.4M325.1 386.9L325.1 384.4L327.3 385.5M354.0 391.1Q350.5 388.1 347.0 385.1M347.8 387.6L347.0 385.1L349.6 385.4M379.6 392.1Q373.6 388.1 367.6 384.1M369.2 387.8L367.6 384.1L371.6 384.1M403.2 393.6Q396.6 388.1 390.1 382.6M391.5 387.2L390.1 382.6L394.9 383.2M425.2 392.6Q419.7 388.1 414.2 383.6M415.4 387.4L414.2 383.6L418.2 384.0M447.8 391.6Q442.8 388.1 437.8 384.6M439.1 387.8L437.8 384.6L441.2 384.7M471.8 391.1Q465.8 388.1 459.8 385.1M461.7 388.3L459.8 385.1L463.6 384.7M493.4 389.1Q488.9 388.1 484.4 387.1M486.2 388.9L484.4 387.1L486.8 386.2M515.2 387.7Q512.0 388.3 508.7 388.1M510.3 389.3L508.7 388.1L510.4 387.1M537.5 387.1Q535.0 388.1 532.5 389.1M534.5 389.5L532.5 389.1L533.7 387.5M560.1 386.6Q558.1 388.1 556.1 389.6M558.1 389.5L556.1 389.6L556.8 387.7M583.1 385.6Q581.1 388.1 579.1 390.6M581.0 390.0L579.1 390.6L579.3 388.6M607.2 384.1Q604.2 388.1 601.2 392.1M603.8 391.1L601.2 392.1L601.4 389.3M629.7 385.1Q627.3 388.1 624.8 391.1M626.8 390.5L624.8 391.1L625.0 388.9M652.8 384.1Q650.3 388.1 647.8 392.1M650.2 391.0L647.8 392.1L647.8 389.5M676.4 383.6Q673.4 388.1 670.4 392.6M673.2 391.4L670.4 392.6L670.4 389.6M159.5 409.7Q154.5 407.7 149.5 405.6M151.2 408.1L149.5 405.6L152.5 405.1M187.1 413.2Q177.6 407.7 168.1 402.2M170.6 407.2L168.1 402.2L173.7 401.9M208.2 414.6Q200.6 407.8 193.1 400.7M194.5 406.1L193.1 400.7L198.7 401.7M233.2 415.6Q223.6 407.8 214.3 399.6M215.8 405.0L214.3 399.6L219.8 400.4M246.8 416.7Q246.7 407.7 246.8 398.7M244.0 402.9L246.8 398.7L249.5 402.9M261.3 415.2Q269.9 407.8 278.2 400.1M272.7 401.0L278.2 400.1L276.8 405.5M290.4 413.2Q292.9 407.7 295.4 402.2M292.5 404.0L295.4 402.2L295.9 405.5M316.9 411.7Q315.9 407.7 314.9 403.7M314.2 405.9L314.9 403.7L316.6 405.3M342.5 412.2Q339.0 407.7 335.5 403.2M335.8 406.4L335.5 403.2L338.5 404.2M367.1 411.7Q362.1 407.7 357.1 403.7M358.2 407.1L357.1 403.7L360.6 404.1M391.1 411.7Q385.1 407.7 379.1 403.7M380.7 407.4L379.1 403.7L383.2 403.7M413.2 411.2Q408.2 407.7 403.2 404.2M404.5 407.4L403.2 404.2L406.6 404.3M436.2 412.2Q431.2 407.7 426.2 403.2M427.2 406.8L426.2 403.2L430.0 403.8M458.8 410.7Q454.3 407.7 449.8 404.7M451.0 407.5L449.8 404.7L452.8 404.7M482.4 410.2Q477.4 407.7 472.4 405.2M473.9 407.9L472.4 405.2L475.5 404.8M504.4 408.7Q500.4 407.7 496.4 406.7M498.0 408.4L496.4 406.7L498.6 406.0M527.0 407.2Q523.5 407.7 520.0 408.2M521.8 409.0L520.0 408.2L521.5 406.9M549.5 406.7Q546.5 407.7 543.5 408.7M545.5 409.2L543.5 408.7L544.8 407.1M572.1 405.2Q569.6 407.7 567.1 410.2M569.1 409.8L567.1 410.2L567.5 408.2M595.7 404.2Q592.7 407.7 589.7 411.2M592.1 410.5L589.7 411.2L590.0 408.6M619.2 403.7Q615.7 407.7 612.2 411.7M615.1 410.9L612.2 411.7L612.6 408.8M641.8 404.2Q638.8 407.7 635.8 411.2M638.3 410.5L635.8 411.2L636.1 408.6M664.3 403.2Q661.8 407.7 659.3 412.2M661.9 410.8L659.3 412.2L659.1 409.3M687.7 403.3Q684.9 407.7 682.2 412.2M684.8 410.9L682.2 412.2L682.1 409.3M174.2 429.2Q166.0 427.6 158.0 424.9M160.9 428.6L158.0 424.9L162.6 423.7M199.6 429.3Q189.1 427.3 178.6 425.3M182.7 429.2L178.6 425.3L183.8 423.2M222.7 429.3Q212.2 427.3 201.7 425.3M205.7 429.2L201.7 425.3L206.9 423.2M242.7 428.8Q235.2 427.3 227.7 425.8M230.8 428.8L227.7 425.8L231.7 424.2M257.8 427.3Q258.3 427.3 258.8 427.3M257.1 426.2L258.8 427.3L257.1 428.4M275.9 431.3Q281.4 427.3 286.8 423.3M283.0 423.5L286.8 423.3L285.5 426.9M304.4 432.7Q304.2 427.3 304.9 421.9M302.9 424.2L304.9 421.9L306.2 424.7M330.7 431.8Q327.3 427.4 324.5 422.6M324.4 425.7L324.5 422.6L327.3 424.0M354.5 431.3Q350.5 427.3 346.5 423.3M347.2 426.4L346.5 423.3L349.6 424.0M377.6 430.3Q373.6 427.3 369.6 424.3M370.6 426.9L369.6 424.3L372.4 424.5M401.6 429.8Q396.7 427.3 391.6 424.8M393.2 427.5L391.6 424.8L394.8 424.4M425.2 429.8Q419.7 427.3 414.2 424.8M416.0 427.7L414.2 424.8L417.6 424.3M447.8 428.8Q442.8 427.3 437.8 425.8M439.7 428.0L437.8 425.8L440.6 425.0M470.3 428.8Q465.8 427.3 461.3 425.8M463.0 427.9L461.3 425.8L463.9 425.1M493.4 428.3Q488.9 427.3 484.4 426.3M486.2 428.1L484.4 426.3L486.8 425.4M515.8 426.9Q512.0 427.5 508.1 427.4M509.9 428.6L508.1 427.4L509.9 426.2M538.3 425.7Q535.0 427.3 531.7 428.9M533.7 429.2L531.7 428.9L532.8 427.1M560.6 425.3Q558.1 427.3 555.6 429.3M557.6 429.1L555.6 429.3L556.2 427.4M583.6 424.3Q581.1 427.3 578.6 430.3M580.7 429.7L578.6 430.3L578.9 428.1M606.7 423.8Q604.2 427.3 601.7 430.8M603.9 429.9L601.7 430.8L601.8 428.4M630.3 423.4Q627.2 427.3 624.3 431.3M626.9 430.3L624.3 431.3L624.4 428.5M652.8 423.2Q650.3 427.3 647.9 431.4M650.3 430.2L647.9 431.4L647.7 428.7M675.5 423.1Q673.3 427.3 671.4 431.5M673.6 430.1L671.4 431.5L671.0 429.0M164.1 446.1Q154.5 446.8 145.0 447.8M149.8 450.3L145.0 447.8L149.2 444.4M187.6 446.4Q177.6 446.9 167.6 447.4M172.4 450.2L167.6 447.4L172.1 444.1M209.1 447.9Q200.6 446.9 192.1 445.9M195.8 449.0L192.1 445.9L196.4 443.8M230.2 448.4Q223.7 446.9 217.2 445.4M219.8 448.1L217.2 445.4L220.7 444.1M249.8 447.9Q246.8 446.9 243.8 445.9M245.0 447.5L243.8 445.9L245.7 445.4M271.8 447.4Q269.8 446.9 267.8 446.4M269.2 447.9L267.8 446.4L269.7 445.8M291.4 451.4Q292.9 446.9 294.4 442.4M292.3 444.1L294.4 442.4L295.0 445.0M319.0 454.4Q315.9 446.9 312.9 439.4M312.1 443.8L312.9 439.4L316.6 442.0M343.0 452.4Q339.0 446.9 335.0 441.4M335.2 445.2L335.0 441.4L338.6 442.8M366.6 451.4Q362.1 446.9 357.6 442.4M358.3 445.9L357.6 442.4L361.0 443.1M390.1 451.4Q385.1 446.9 380.1 442.4M381.1 446.0L380.1 442.4L383.8 443.0M413.2 450.9Q408.2 446.9 403.2 442.9M404.3 446.3L403.2 442.9L406.7 443.3M436.2 449.4Q431.2 446.9 426.2 444.4M427.8 447.1L426.2 444.4L429.4 444.0M457.3 447.9Q454.3 446.9 451.3 445.9M452.5 447.5L451.3 445.9L453.2 445.4M482.9 447.4Q477.4 446.9 471.9 446.4M474.3 448.3L471.9 446.4L474.6 445.0M504.9 447.4Q500.4 446.9 495.9 446.4M497.9 448.0L495.9 446.4L498.2 445.3M527.0 444.9Q523.5 446.9 520.0 448.9M522.2 449.0L520.0 448.9L521.0 446.9M550.5 444.9Q546.5 446.9 542.5 448.9M545.0 449.2L542.5 448.9L543.8 446.7M573.1 444.9Q569.6 446.9 566.1 448.9M568.4 449.0L566.1 448.9L567.1 446.9M596.2 443.9Q592.7 446.9 589.2 449.9M591.7 449.6L589.2 449.9L589.9 447.4M619.2 442.4Q615.7 446.9 612.2 451.4M615.2 450.4L612.2 451.4L612.5 448.2M641.8 442.4Q638.8 446.9 635.8 451.4M638.6 450.2L635.8 451.4L635.8 448.4M663.3 442.9Q661.8 446.9 660.3 450.9M662.3 449.5L660.3 450.9L659.8 448.6M686.5 443.1Q684.9 446.9 683.3 450.7M685.2 449.4L683.3 450.7L682.9 448.4M175.5 464.9Q166.1 466.5 156.5 468.0M161.5 470.2L156.5 468.0L160.6 464.4M199.6 463.1Q189.1 466.5 178.6 470.0M184.0 471.4L178.6 470.0L182.1 465.6M222.7 464.9Q212.2 466.5 201.7 468.0M206.8 470.4L201.7 468.0L205.9 464.3M239.2 464.5Q235.2 466.5 231.2 468.5M233.7 468.8L231.2 468.5L232.5 466.3M259.8 464.5Q258.3 466.5 256.8 468.5M258.7 467.8L256.8 468.5L256.9 466.5M281.8 466.5Q281.3 466.5 280.8 466.5M282.5 467.6L280.8 466.5L282.5 465.4M308.4 469.0Q304.4 466.5 300.4 464.0M301.5 466.4L300.4 464.0L303.1 464.0M331.0 469.0Q327.5 466.5 324.0 464.0M324.8 466.2L324.0 464.0L326.4 464.1M356.6 473.5Q350.5 466.5 344.5 459.5M345.2 464.6L344.5 459.5L349.5 461.0M377.6 470.0Q373.6 466.5 369.6 463.0M370.4 465.9L369.6 463.0L372.5 463.4M401.2 469.5Q396.6 466.5 392.2 463.5M393.3 466.3L392.2 463.5L395.2 463.5M424.7 469.5Q419.7 466.5 414.7 463.5M416.1 466.4L414.7 463.5L418.0 463.4M447.8 468.0Q442.8 466.5 437.8 465.0M439.7 467.2L437.8 465.0L440.6 464.2M469.8 467.0Q465.8 466.5 461.8 466.0M463.6 467.5L461.8 466.0L463.9 465.0M493.9 466.5Q488.9 466.5 483.9 466.5M486.2 468.0L483.9 466.5L486.2 465.0M516.5 465.1Q512.0 466.8 507.3 467.4M509.7 468.5L507.3 467.4L509.3 465.6M539.5 465.0Q535.0 466.5 530.5 468.0M533.1 468.7L530.5 468.0L532.2 465.9M561.1 465.0Q558.1 466.5 555.1 468.0M557.1 468.2L555.1 468.0L556.1 466.3M584.6 464.0Q581.1 466.5 577.6 469.0M580.0 468.9L577.6 469.0L578.5 466.8M607.7 462.5Q604.2 466.5 600.7 470.5M603.6 469.7L600.7 470.5L601.1 467.6M630.7 462.5Q627.3 466.5 623.7 470.5M626.6 469.7L623.7 470.5L624.2 467.6M653.3 462.5Q650.3 466.5 647.3 470.5M649.9 469.5L647.3 470.5L647.5 467.7M674.9 463.0Q673.4 466.5 671.9 470.0M673.6 468.8L671.9 470.0L671.5 467.9M164.0 482.8Q154.5 486.1 145.0 489.4M150.5 490.7L145.0 489.4L148.5 485.0M187.6 481.6Q177.6 486.1 167.6 490.6M173.1 491.5L167.6 490.6L170.6 485.9M210.6 480.6Q200.6 486.1 190.6 491.6M196.2 492.0L190.6 491.6L193.3 486.7M228.2 480.1Q223.7 486.1 219.2 492.1M223.1 490.7L219.2 492.1L219.5 487.9M250.3 480.6Q246.8 486.1 243.2 491.6M246.6 490.1L243.2 491.6L243.2 487.9M274.8 485.6Q269.8 486.1 264.8 486.6M267.3 487.9L264.8 486.6L267.0 484.8M297.9 488.6Q292.9 486.1 287.9 483.6M289.5 486.3L287.9 483.6L291.0 483.2M321.4 488.6Q315.9 486.1 310.4 483.6M312.3 486.5L310.4 483.6L313.8 483.1M345.0 489.1Q339.0 486.1 333.0 483.1M334.9 486.3L333.0 483.1L336.7 482.7M367.6 489.1Q362.1 486.1 356.6 483.1M358.2 486.2L356.6 483.1L360.1 482.8M390.1 488.1Q385.1 486.1 380.1 484.1M381.9 486.6L380.1 484.1L383.1 483.5M412.7 488.1Q408.2 486.1 403.7 484.1M405.2 486.4L403.7 484.1L406.4 483.7M436.7 487.6Q431.2 486.1 425.7 484.6M427.9 487.0L425.7 484.6L428.8 483.6M459.3 486.6Q454.3 486.1 449.3 485.6M451.5 487.4L449.3 485.6L451.8 484.3M480.9 486.1Q477.4 486.1 473.9 486.1M475.5 487.2L473.9 486.1L475.5 485.0M505.4 485.6Q500.4 486.1 495.4 486.6M497.9 487.9L495.4 486.6L497.6 484.8M528.5 484.6Q523.5 486.1 518.5 487.6M521.3 488.4L518.5 487.6L520.4 485.4M551.0 484.1Q546.5 486.1 542.0 488.1M544.8 488.5L542.0 488.1L543.5 485.8M573.6 484.1Q569.6 486.1 565.6 488.1M568.1 488.4L565.6 488.1L566.9 485.9M597.2 483.1Q592.7 486.1 588.2 489.1M591.2 489.1L588.2 489.1L589.4 486.3M619.2 482.6Q615.7 486.1 612.2 489.6M614.9 489.0L612.2 489.6L612.8 486.9M642.8 482.6Q638.8 486.1 634.8 489.6M637.7 489.2L634.8 489.6L635.6 486.7M665.3 481.6Q661.8 486.1 658.3 490.6M661.4 489.6L658.3 490.6L658.6 487.4M687.8 481.9Q685.0 486.1 681.9 490.2M684.6 489.2L681.9 490.2L682.1 487.4M175.0 502.2Q166.1 505.7 157.0 509.2M162.3 510.3L157.0 509.2L160.2 504.8M197.1 501.2Q189.1 505.7 181.1 510.2M186.2 510.5L181.1 510.2L183.5 505.6M220.2 499.7Q212.2 505.7 204.2 511.7M209.7 511.3L204.2 511.7L206.1 506.4M242.7 501.7Q235.2 505.7 227.7 509.7M232.5 510.1L227.7 509.7L230.0 505.5M263.3 504.7Q258.3 505.7 253.3 506.7M255.9 507.8L253.3 506.7L255.3 504.7M286.4 507.2Q281.3 505.7 276.3 504.2M278.2 506.4L276.3 504.2L279.2 503.4M309.9 506.7Q304.4 505.7 298.9 504.7M301.2 506.8L298.9 504.7L301.8 503.5M334.6 506.9Q327.5 505.8 320.3 504.3M323.2 507.2L320.3 504.3L324.1 502.8M356.5 507.2Q350.5 505.7 344.5 504.2M346.9 506.7L344.5 504.2L347.8 503.1M379.6 507.2Q373.6 505.7 367.6 504.2M369.9 506.7L367.6 504.2L370.9 503.1M401.2 506.7Q396.6 505.7 392.1 504.7M394.0 506.5L392.1 504.7L394.6 503.8M424.2 506.2Q419.7 505.7 415.2 505.2M417.2 506.8L415.2 505.2L417.5 504.1M449.3 505.7Q442.8 505.7 436.3 505.7M439.3 507.7L436.3 505.7L439.3 503.7M469.3 505.7Q465.8 505.7 462.3 505.7M464.0 506.8L462.3 505.7L464.0 504.6M492.9 505.2Q488.9 505.7 484.9 506.2M486.9 507.2L484.9 506.2L486.6 504.7M516.4 504.2Q512.0 505.9 507.4 506.9M509.9 507.8L507.4 506.9L509.2 505.0M539.0 503.7Q535.0 505.7 531.0 507.7M533.5 508.0L531.0 507.7L532.3 505.5M562.1 503.7Q558.1 505.7 554.1 507.7M556.6 508.0L554.1 507.7L555.3 505.5M585.6 503.2Q581.1 505.7 576.6 508.2M579.5 508.4L576.6 508.2L578.0 505.7M608.2 502.7Q604.2 505.7 600.2 508.7M603.0 508.5L600.2 508.7L601.2 506.1M631.7 502.2Q627.3 505.7 622.8 509.2M625.9 508.9L622.8 509.2L623.8 506.2M654.8 501.7Q650.3 505.7 645.8 509.7M649.1 509.2L645.8 509.7L646.7 506.4M676.9 501.2Q673.4 505.7 669.9 510.2M672.9 509.2L669.9 510.2L670.1 507.0M163.7 524.2Q154.5 525.4 145.3 526.2M149.9 528.6L145.3 526.2L149.4 523.0M186.6 523.8Q177.6 525.3 168.6 526.8M173.3 528.8L168.6 526.8L172.4 523.4M208.6 521.8Q200.6 525.3 192.6 528.8M197.5 529.6L192.6 528.8L195.3 524.7M232.7 521.8Q223.7 525.3 214.7 528.8M220.0 529.9L214.7 528.8L217.9 524.4M254.8 524.3Q246.8 525.3 238.8 526.3M242.8 528.3L238.8 526.3L242.2 523.4M274.3 524.8Q269.8 525.3 265.3 525.8M267.6 526.9L265.3 525.8L267.3 524.2M297.9 525.3Q292.9 525.3 287.9 525.3M290.2 526.8L287.9 525.3L290.2 523.8M323.9 525.3Q315.9 525.3 307.9 525.3M311.7 527.7L307.9 525.3L311.7 522.9M348.0 525.3Q339.0 525.3 330.0 525.3M334.2 528.0L330.0 525.3L334.2 522.6M371.1 525.3Q362.1 525.3 353.1 525.3M357.3 528.0L353.1 525.3L357.3 522.6M390.6 524.3Q385.1 525.3 379.6 526.3M382.5 527.5L379.6 526.3L381.9 524.2M413.7 524.3Q408.2 525.3 402.7 526.3M405.6 527.5L402.7 526.3L405.0 524.2M436.2 524.3Q431.2 525.3 426.2 526.3M428.9 527.4L426.2 526.3L428.3 524.3M460.3 523.8Q454.3 525.3 448.3 526.8M451.6 527.9L448.3 526.8L450.7 524.3M483.4 523.8Q477.4 525.3 471.4 526.8M474.6 527.9L471.4 526.8L473.7 524.3M505.4 524.3Q500.4 525.3 495.4 526.3M498.1 527.4L495.4 526.3L497.5 524.3M527.5 523.8Q523.5 525.3 519.5 526.8M521.8 527.3L519.5 526.8L520.9 524.9M550.0 523.8Q546.5 525.3 543.0 526.8M545.1 527.2L543.0 526.8L544.2 525.0M573.1 522.8Q569.6 525.3 566.1 527.8M568.5 527.7L566.1 527.8L567.0 525.6M596.2 522.3Q592.7 525.3 589.2 528.3M591.7 528.0L589.2 528.3L589.9 525.8M619.2 521.3Q615.7 525.3 612.2 529.3M615.1 528.5L612.2 529.3L612.6 526.4M642.3 521.3Q638.8 525.3 635.3 529.3M638.1 528.5L635.3 529.3L635.7 526.4M665.8 520.8Q661.8 525.3 657.8 529.8M661.1 528.9L657.8 529.8L658.3 526.5M688.6 521.0Q684.9 525.3 681.2 529.6M684.3 528.7L681.2 529.6L681.6 526.5M175.6 546.4Q166.0 544.9 156.6 543.4M160.6 547.0L156.6 543.4L161.5 541.2M197.6 545.4Q189.1 544.9 180.6 544.4M184.4 547.2L180.6 544.4L184.8 542.1M220.2 542.9Q212.2 544.9 204.2 546.9M208.5 548.4L204.2 546.9L207.3 543.5M242.7 542.9Q235.2 544.9 227.7 546.9M231.9 548.2L227.7 546.9L230.6 543.7M264.3 542.9Q258.3 544.9 252.3 546.9M255.7 547.8L252.3 546.9L254.5 544.1M286.9 544.4Q281.3 544.9 275.9 545.4M278.6 546.8L275.9 545.4L278.3 543.5M309.4 544.9Q304.4 544.9 299.4 544.9M301.8 546.4L299.4 544.9L301.8 543.4M335.8 544.8Q327.5 545.0 319.1 544.8M323.0 547.4L319.1 544.8L323.1 542.4M358.5 544.4Q350.5 544.9 342.5 545.4M346.4 547.6L342.5 545.4L346.1 542.7M381.1 543.4Q373.6 544.9 366.1 546.4M370.1 548.0L366.1 546.4L369.2 543.4M401.7 543.4Q396.6 544.9 391.6 546.4M394.5 547.2L391.6 546.4L393.5 544.2M426.2 542.9Q419.7 544.9 413.2 546.9M416.9 547.9L413.2 546.9L415.7 544.0M447.8 543.4Q442.8 544.9 437.8 546.4M440.6 547.2L437.8 546.4L439.7 544.2M471.8 543.4Q465.8 544.9 459.8 546.4M463.1 547.5L459.8 546.4L462.2 543.9M493.4 543.4Q488.9 544.9 484.4 546.4M487.0 547.1L484.4 546.4L486.0 544.3M516.3 543.2Q512.0 545.0 507.5 546.5M510.1 547.1L507.5 546.5L509.2 544.4M539.0 542.9Q535.0 544.9 531.0 546.9M533.5 547.2L531.0 546.9L532.3 544.7M562.1 541.9Q558.1 544.9 554.1 547.9M556.9 547.7L554.1 547.9L555.0 545.3M585.6 541.4Q581.1 544.9 576.6 548.4M579.8 548.1L576.6 548.4L577.7 545.4M608.7 540.9Q604.2 544.9 599.7 548.9M603.0 548.4L599.7 548.9L600.6 545.6M631.7 540.9Q627.3 544.9 622.8 548.9M626.1 548.4L622.8 548.9L623.6 545.6M654.3 540.4Q650.3 544.9 646.3 549.4M649.6 548.5L646.3 549.4L646.8 546.1M676.9 540.9Q673.4 544.9 669.9 548.9M672.7 548.1L669.9 548.9L670.3 546.0M164.1 568.9Q154.6 564.2 144.7 560.6M148.1 565.1L144.7 560.6L150.2 559.3M188.1 568.9Q177.6 564.5 167.1 560.0M170.2 564.7L167.1 560.0L172.6 559.1M209.1 566.0Q200.6 564.5 192.1 563.0M195.7 566.3L192.1 563.0L196.6 561.1M231.7 565.0Q223.7 564.5 215.7 564.0M219.3 566.7L215.7 564.0L219.6 561.8M254.8 564.5Q246.8 564.5 238.8 564.5M242.5 566.9L238.8 564.5L242.5 562.1M278.8 567.0Q269.8 564.5 260.8 562.0M264.3 565.9L260.8 562.0L265.8 560.4M298.4 566.0Q292.9 564.5 287.4 563.0M289.5 565.4L287.4 563.0L290.4 562.0M323.9 565.0Q315.9 564.5 307.9 564.0M311.5 566.7L307.9 564.0L311.9 561.8M347.5 564.5Q339.0 564.5 330.5 564.5M334.5 567.1L330.5 564.5L334.5 561.9M369.6 563.5Q362.1 564.5 354.6 565.5M358.4 567.3L354.6 565.5L357.8 562.7M390.1 563.0Q385.1 564.5 380.1 566.0M382.9 566.8L380.1 566.0L382.0 563.8M413.2 563.0Q408.2 564.5 403.2 566.0M406.0 566.8L403.2 566.0L405.1 563.8M436.2 563.0Q431.2 564.5 426.2 566.0M429.0 566.8L426.2 566.0L428.1 563.8M459.3 562.5Q454.3 564.5 449.3 566.5M452.3 567.1L449.3 566.5L451.0 564.0M481.9 562.5Q477.4 564.5 472.9 566.5M475.6 566.9L472.9 566.5L474.4 564.2M505.4 563.0Q500.4 564.5 495.4 566.0M498.2 566.8L495.4 566.0L497.3 563.8M528.0 562.5Q523.5 564.5 519.0 566.5M521.7 566.9L519.0 566.5L520.5 564.2M551.0 562.0Q546.5 564.5 542.0 567.0M544.9 567.2L542.0 567.0L543.4 564.5M574.1 561.0Q569.6 564.5 565.1 568.0M568.3 567.7L565.1 568.0L566.1 565.0M596.7 560.5Q592.7 564.5 588.7 568.5M591.8 567.8L588.7 568.5L589.3 565.4M619.2 560.5Q615.7 564.5 612.2 568.5M615.1 567.7L612.2 568.5L612.6 565.6M642.8 560.5Q638.8 564.5 634.8 568.5M637.9 567.8L634.8 568.5L635.4 565.4M665.3 560.0Q661.8 564.5 658.3 569.0M661.4 568.0L658.3 569.0L658.6 565.8M688.8 560.0Q684.9 564.5 681.0 569.0M684.2 568.1L681.0 569.0L681.5 565.7M175.1 590.1Q166.0 584.1 157.1 578.1M159.3 583.2L157.1 578.1L162.7 578.2M199.6 589.2Q189.1 584.1 178.6 579.1M181.6 583.9L178.6 579.1L184.2 578.4M220.2 587.1Q212.2 584.1 204.2 581.1M207.0 585.0L204.2 581.1L208.8 580.1M243.7 586.1Q235.2 584.1 226.7 582.1M230.1 585.6L226.7 582.1L231.3 580.4M264.8 586.1Q258.3 584.1 251.8 582.1M254.2 585.0L251.8 582.1L255.5 581.1M290.9 587.6Q281.3 584.1 271.8 580.6M275.2 585.1L271.8 580.6L277.3 579.4M310.4 585.1Q304.4 584.1 298.4 583.1M300.9 585.4L298.4 583.1L301.5 581.7M334.1 584.1Q327.5 584.2 320.8 583.8M323.8 586.0L320.8 583.8L324.1 582.0M355.0 583.6Q350.5 584.1 346.0 584.6M348.3 585.7L346.0 584.6L348.0 583.0M381.1 582.1Q373.6 584.1 366.1 586.1M370.2 587.4L366.1 586.1L369.0 582.9M401.2 582.1Q396.6 584.1 392.1 586.1M394.9 586.5L392.1 586.1L393.7 583.8M425.7 582.1Q419.7 584.1 413.7 586.1M417.1 587.0L413.7 586.1L415.9 583.3M447.3 582.1Q442.8 584.1 438.3 586.1M441.0 586.5L438.3 586.1L439.8 583.8M469.8 582.1Q465.8 584.1 461.8 586.1M464.3 586.4L461.8 586.1L463.1 583.9M493.9 581.6Q488.9 584.1 483.9 586.6M487.0 587.0L483.9 586.6L485.5 583.9M516.5 582.3Q511.9 584.1 507.4 586.0M510.1 586.5L507.4 586.0L508.9 583.7M539.0 582.6Q535.0 584.1 531.0 585.6M533.3 586.1L531.0 585.6L532.4 583.7M563.6 580.6Q558.1 584.1 552.6 587.6M556.2 587.6L552.6 587.6L554.1 584.3M583.6 580.6Q581.1 584.1 578.6 587.6M580.9 586.7L578.6 587.6L578.7 585.2M608.2 580.1Q604.2 584.1 600.2 588.1M603.3 587.4L600.2 588.1L600.8 585.0M631.3 579.6Q627.2 584.1 623.2 588.6M626.5 587.7L623.2 588.6L623.8 585.3M654.8 579.1Q650.3 584.1 645.8 589.1M649.4 588.1L645.8 589.1L646.4 585.4M677.9 579.1Q673.4 584.1 668.9 589.1M672.5 588.1L668.9 589.1L669.5 585.4M160.1 607.8Q154.5 603.7 148.9 599.7M150.3 603.3L148.9 599.7L152.8 599.8M182.3 607.2Q177.6 603.7 172.9 600.1M174.0 603.2L172.9 600.1L176.2 600.4M205.3 607.2Q200.6 603.7 196.0 600.2M197.1 603.2L196.0 600.2L199.3 600.5M231.3 606.2Q223.7 603.8 216.2 600.9M218.8 604.6L216.2 600.9L220.6 600.0M254.2 605.7Q246.8 603.7 239.3 601.8M242.2 604.9L239.3 601.8L243.4 600.4M278.0 606.5Q269.8 603.7 261.6 601.0M264.6 604.8L261.6 601.0L266.3 599.7M300.2 605.6Q292.8 603.8 285.6 601.6M288.3 604.8L285.6 601.6L289.7 600.4M322.2 604.5Q315.9 603.8 309.7 602.7M312.3 605.1L309.7 602.7L313.0 601.3M344.1 603.1Q339.0 603.8 333.8 604.1M336.4 605.5L333.8 604.1L336.1 602.4M368.2 602.3Q362.1 603.8 355.9 605.0M359.2 606.3L355.9 605.0L358.4 602.5M390.8 601.7Q385.1 603.8 379.4 605.6M382.6 606.5L379.4 605.6L381.5 603.0M413.5 601.8Q408.2 603.7 402.9 605.7M406.0 606.4L402.9 605.7L404.8 603.1M436.3 601.7Q431.3 603.7 426.1 605.6M429.1 606.3L426.1 605.6L428.0 603.2M458.6 601.7Q454.3 603.7 450.0 605.7M452.6 606.1L450.0 605.7L451.4 603.4M481.9 601.5Q477.4 603.7 472.8 605.9M475.6 606.3L472.8 605.9L474.3 603.5M505.2 601.5Q500.4 603.7 495.6 606.0M498.6 606.4L495.6 606.0L497.2 603.4M527.7 602.0Q523.5 603.7 519.3 605.5M521.8 605.9L519.3 605.5L520.7 603.3M551.2 601.1Q546.6 603.8 541.9 606.2M544.8 606.5L541.9 606.2L543.3 603.6M573.4 600.1Q569.7 603.8 565.6 607.1M568.5 606.8L565.6 607.1L566.5 604.3M596.1 599.9Q592.7 603.7 589.3 607.5M592.0 606.8L589.3 607.5L589.7 604.7M619.7 599.4Q615.7 603.7 611.7 608.0M614.9 607.2L611.7 608.0L612.3 604.8M643.1 598.9Q638.8 603.7 634.5 608.4M638.0 607.5L634.5 608.4L635.1 604.9M666.3 598.7Q661.8 603.7 657.4 608.7M661.0 607.7L657.4 608.7L658.0 605.0M689.3 598.7Q684.9 603.7 680.5 608.6M684.1 607.7L680.5 608.6L681.0 605.0" stroke="#000" stroke-width="0.55" fill="none" stroke-linecap="round" stroke-linejoin="round"/>
<rect x="153.5" y="72.3" width="531.7" height="530.9" fill="none" stroke="#000" stroke-width="1.1"/>
<path d="M153.5 100.3h14 M685.2 100.3h-14 M153.5 232.2h14 M685.2 232.2h-14 M153.5 364.7h14 M685.2 364.7h-14 M153.5 496.5h14 M685.2 496.5h-14 M162.8 603.2v-14 M276.8 603.2v-14 M390.8 603.2v-14 M504.6 603.2v-14 M618.6 603.2v-14 M187.0 72.3v14 M290.6 72.3v14 M393.7 72.3v14 M496.5 72.3v14 M600.0 72.3v14" stroke="#000" stroke-width="1.2" fill="none"/>
<rect x="658.4" y="72.5" width="29.1" height="39" fill="#fff" stroke="#222" stroke-width="0.7"/>
<path d="M661.4 97.4H683.9M678.2 95.2L683.9 97.4L678.2 99.6" stroke="#000" stroke-width="0.7" fill="none"/>
<rect x="161.80" y="627.5" width="30.35" height="14.4" fill="#0000ff"/>
<rect x="192.10" y="627.5" width="30.35" height="14.4" fill="#0060ff"/>
<rect x="222.40" y="627.5" width="30.35" height="14.4" fill="#00c0ff"/>
<rect x="252.70" y="627.5" width="30.35" height="14.4" fill="#00f0e0"/>
<rect x="283.00" y="627.5" width="30.35" height="14.4" fill="#00d782"/>
<rect x="313.30" y="627.5" width="30.35" height="14.4" fill="#0ab92d"/>
<rect x="343.60" y="627.5" width="30.35" height="14.4" fill="#4bc314"/>
<rect x="373.90" y="627.5" width="30.35" height="14.4" fill="#a0e10a"/>
<rect x="404.20" y="627.5" width="30.35" height="14.4" fill="#ffff00"/>
<rect x="434.50" y="627.5" width="30.35" height="14.4" fill="#ffdc00"/>
<rect x="464.80" y="627.5" width="30.35" height="14.4" fill="#ffb900"/>
<rect x="495.10" y="627.5" width="30.35" height="14.4" fill="#ff9100"/>
<rect x="525.40" y="627.5" width="30.35" height="14.4" fill="#ff5500"/>
<rect x="555.70" y="627.5" width="30.35" height="14.4" fill="#ff1400"/>
<rect x="586.00" y="627.5" width="30.35" height="14.4" fill="#d70028"/>
<rect x="616.30" y="627.5" width="30.35" height="14.4" fill="#96005a"/>
<rect x="646.60" y="627.5" width="30.35" height="14.4" fill="#550087"/>
<path d="M192.10 627.5v14.4 M222.40 627.5v14.4 M252.70 627.5v14.4 M283.00 627.5v14.4 M313.30 627.5v14.4 M343.60 627.5v14.4 M373.90 627.5v14.4 M404.20 627.5v14.4 M434.50 627.5v14.4 M464.80 627.5v14.4 M495.10 627.5v14.4 M525.40 627.5v14.4 M555.70 627.5v14.4 M586.00 627.5v14.4 M616.30 627.5v14.4 M646.60 627.5v14.4" stroke="#000" stroke-width="0.8" fill="none"/>
<text x="306.3" y="26.8" font-size="14.35" text-anchor="start" font-weight="bold">2023/5/25/12UTC (6LT), Thursday</text>
<text x="306.3" y="41.8" font-size="14.35" text-anchor="start" font-weight="bold">FV3M0B2L1_GFS025</text>
<text x="152.3" y="63.7" font-size="24.45" text-anchor="start">instantaneous surface downward shortwave flux</text>
<text x="685.6" y="63.7" font-size="24.30" text-anchor="end">W/m**2</text>
<text x="203.8" y="619.2" font-size="14.50" text-anchor="start">Min= 2.6 Max= 162.9</text>
<text x="163.0" y="624.7" font-size="13.90" text-anchor="middle">102°W</text>
<text x="391.0" y="624.7" font-size="13.90" text-anchor="middle">98°W</text>
<text x="619.0" y="624.7" font-size="13.90" text-anchor="middle">94°W</text>
<text x="144.6" y="237.5" font-size="14.30" text-anchor="end">36°N</text>
<text x="144.6" y="502.0" font-size="14.30" text-anchor="end">32°N</text>
<text x="192.1" y="656.4" font-size="13.60" text-anchor="middle">10</text>
<text x="252.7" y="656.4" font-size="13.60" text-anchor="middle">30</text>
<text x="313.3" y="656.4" font-size="13.60" text-anchor="middle">50</text>
<text x="373.9" y="656.4" font-size="13.60" text-anchor="middle">70</text>
<text x="434.5" y="656.4" font-size="13.60" text-anchor="middle">90</text>
<text x="495.1" y="656.4" font-size="13.60" text-anchor="middle">110</text>
<text x="555.7" y="656.4" font-size="13.60" text-anchor="middle">130</text>
<text x="616.3" y="656.4" font-size="13.60" text-anchor="middle">150</text>
<text x="672.8" y="86.9" font-size="14.00" text-anchor="middle">8</text>
</svg>
</body></html>
